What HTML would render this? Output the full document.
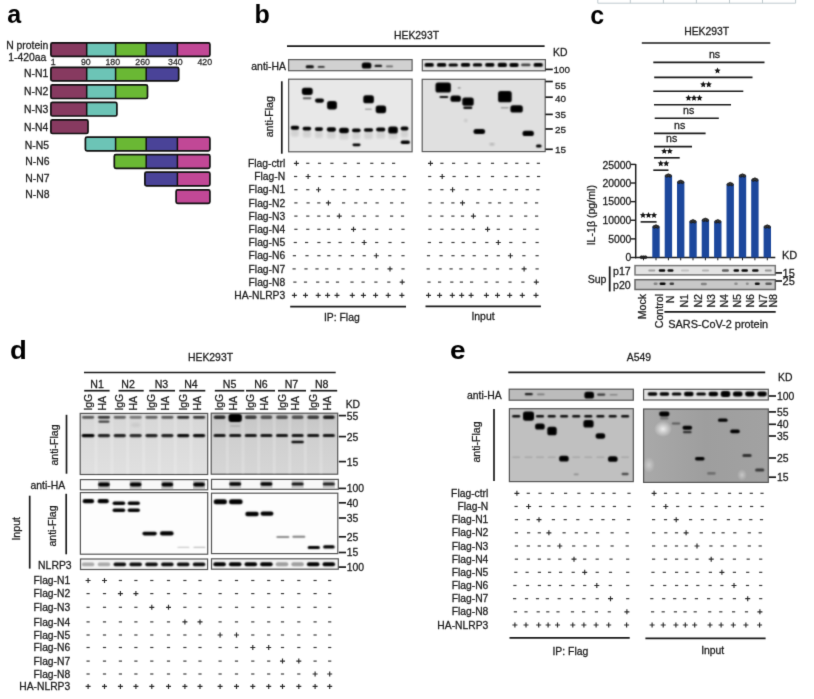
<!DOCTYPE html><html><head><meta charset="utf-8"><style>html,body{margin:0;padding:0;background:#fff;}svg{display:block;font-family:"Liberation Sans", sans-serif;}#w{width:814px;height:699px;will-change:transform;}</style></head><body>
<div id="w"><svg width="814" height="699" viewBox="0 0 814 699">
<defs><filter id="b0" x="-100%" y="-150%" width="300%" height="400%"><feConvolveMatrix order="3" kernelMatrix="0.00524 0.06192 0.00524 0.06192 0.73137 0.06192 0.00524 0.06192 0.00524" edgeMode="none"/></filter><filter id="b1" x="-100%" y="-150%" width="300%" height="400%"><feConvolveMatrix order="5" kernelMatrix="0.00009 0.00198 0.00548 0.00198 0.00009 0.00198 0.04220 0.11707 0.04220 0.00198 0.00548 0.11707 0.32480 0.11707 0.00548 0.00198 0.04220 0.11707 0.04220 0.00198 0.00009 0.00198 0.00548 0.00198 0.00009" edgeMode="none"/></filter><filter id="b2" x="-50%" y="-50%" width="200%" height="200%"><feGaussianBlur stdDeviation="1.1"/></filter><filter id="b3" x="-50%" y="-50%" width="200%" height="200%"><feGaussianBlur stdDeviation="2.2"/></filter><filter id="b5" x="-50%" y="-50%" width="200%" height="200%"><feGaussianBlur stdDeviation="5"/></filter><filter id="gall" filterUnits="userSpaceOnUse" x="0" y="0" width="814" height="699" color-interpolation-filters="sRGB"><feConvolveMatrix order="3" kernelMatrix="0.0183 0.1353 0.0183 0.1353 1.0000 0.1353 0.0183 0.1353 0.0183" edgeMode="duplicate" preserveAlpha="true"/></filter></defs>
<g filter="url(#gall)">
<rect x="0" y="0" width="814" height="699" fill="#fff" stroke="none" stroke-width="1" rx="0"/>
<g stroke="#b9c4c8" stroke-width="0.9">
<line x1="597.8" y1="3.2" x2="795.6" y2="3.2" stroke="#b9c4c8" stroke-width="0.9"/>
<line x1="597.8" y1="0" x2="597.8" y2="3.2" stroke="#b9c4c8" stroke-width="0.9"/>
<line x1="630.3" y1="0" x2="630.3" y2="3.2" stroke="#b9c4c8" stroke-width="0.9"/>
<line x1="663.4" y1="0" x2="663.4" y2="3.2" stroke="#b9c4c8" stroke-width="0.9"/>
<line x1="696.4" y1="0" x2="696.4" y2="3.2" stroke="#b9c4c8" stroke-width="0.9"/>
<line x1="729.5" y1="0" x2="729.5" y2="3.2" stroke="#b9c4c8" stroke-width="0.9"/>
<line x1="762.5" y1="0" x2="762.5" y2="3.2" stroke="#b9c4c8" stroke-width="0.9"/>
<line x1="795.6" y1="0" x2="795.6" y2="3.2" stroke="#b9c4c8" stroke-width="0.9"/>
</g>
<text x="7.2" y="23.4" font-size="25" text-anchor="start" font-weight="bold" fill="#000">a</text>
<rect x="50.9" y="42.8" width="35.800000000000004" height="13.6" fill="#873a60" stroke="none" stroke-width="1" rx="0"/>
<rect x="86.7" y="42.8" width="28.89999999999999" height="13.6" fill="#6cc4b6" stroke="none" stroke-width="1" rx="0"/>
<rect x="115.6" y="42.8" width="30.599999999999994" height="13.6" fill="#6ab834" stroke="none" stroke-width="1" rx="0"/>
<rect x="146.2" y="42.8" width="31.200000000000017" height="13.6" fill="#4a4398" stroke="none" stroke-width="1" rx="0"/>
<rect x="177.4" y="42.8" width="32.5" height="13.6" fill="#c14896" stroke="none" stroke-width="1" rx="0"/>
<line x1="86.7" y1="42.8" x2="86.7" y2="56.4" stroke="#111" stroke-width="1.5"/>
<line x1="115.6" y1="42.8" x2="115.6" y2="56.4" stroke="#111" stroke-width="1.5"/>
<line x1="146.2" y1="42.8" x2="146.2" y2="56.4" stroke="#111" stroke-width="1.5"/>
<line x1="177.4" y1="42.8" x2="177.4" y2="56.4" stroke="#111" stroke-width="1.5"/>
<rect x="50.9" y="42.8" width="159.0" height="13.6" fill="none" stroke="#111" stroke-width="1.7" rx="1.6"/>
<rect x="50.9" y="67.3" width="35.800000000000004" height="13.6" fill="#873a60" stroke="none" stroke-width="1" rx="0"/>
<rect x="86.7" y="67.3" width="28.89999999999999" height="13.6" fill="#6cc4b6" stroke="none" stroke-width="1" rx="0"/>
<rect x="115.6" y="67.3" width="30.599999999999994" height="13.6" fill="#6ab834" stroke="none" stroke-width="1" rx="0"/>
<rect x="146.2" y="67.3" width="32.50000000000003" height="13.6" fill="#4a4398" stroke="none" stroke-width="1" rx="0"/>
<line x1="86.7" y1="67.3" x2="86.7" y2="80.89999999999999" stroke="#111" stroke-width="1.5"/>
<line x1="115.6" y1="67.3" x2="115.6" y2="80.89999999999999" stroke="#111" stroke-width="1.5"/>
<line x1="146.2" y1="67.3" x2="146.2" y2="80.89999999999999" stroke="#111" stroke-width="1.5"/>
<rect x="50.9" y="67.3" width="127.80000000000001" height="13.6" fill="none" stroke="#111" stroke-width="1.7" rx="1.6"/>
<rect x="50.9" y="84.9" width="35.800000000000004" height="13.6" fill="#873a60" stroke="none" stroke-width="1" rx="0"/>
<rect x="86.7" y="84.9" width="28.89999999999999" height="13.6" fill="#6cc4b6" stroke="none" stroke-width="1" rx="0"/>
<rect x="115.6" y="84.9" width="31.900000000000006" height="13.6" fill="#6ab834" stroke="none" stroke-width="1" rx="0"/>
<line x1="86.7" y1="84.9" x2="86.7" y2="98.5" stroke="#111" stroke-width="1.5"/>
<line x1="115.6" y1="84.9" x2="115.6" y2="98.5" stroke="#111" stroke-width="1.5"/>
<rect x="50.9" y="84.9" width="96.6" height="13.6" fill="none" stroke="#111" stroke-width="1.7" rx="1.6"/>
<rect x="50.9" y="102.4" width="35.800000000000004" height="13.6" fill="#873a60" stroke="none" stroke-width="1" rx="0"/>
<rect x="86.7" y="102.4" width="30.19999999999999" height="13.6" fill="#6cc4b6" stroke="none" stroke-width="1" rx="0"/>
<line x1="86.7" y1="102.4" x2="86.7" y2="116.0" stroke="#111" stroke-width="1.5"/>
<rect x="50.9" y="102.4" width="66.0" height="13.6" fill="none" stroke="#111" stroke-width="1.7" rx="1.6"/>
<rect x="50.9" y="119.9" width="37.1" height="13.6" fill="#873a60" stroke="none" stroke-width="1" rx="0"/>
<rect x="50.9" y="119.9" width="37.1" height="13.6" fill="none" stroke="#111" stroke-width="1.7" rx="1.6"/>
<rect x="85.4" y="137.2" width="30.19999999999999" height="13.6" fill="#6cc4b6" stroke="none" stroke-width="1" rx="0"/>
<rect x="115.6" y="137.2" width="30.599999999999994" height="13.6" fill="#6ab834" stroke="none" stroke-width="1" rx="0"/>
<rect x="146.2" y="137.2" width="31.200000000000017" height="13.6" fill="#4a4398" stroke="none" stroke-width="1" rx="0"/>
<rect x="177.4" y="137.2" width="32.5" height="13.6" fill="#c14896" stroke="none" stroke-width="1" rx="0"/>
<line x1="115.6" y1="137.2" x2="115.6" y2="150.79999999999998" stroke="#111" stroke-width="1.5"/>
<line x1="146.2" y1="137.2" x2="146.2" y2="150.79999999999998" stroke="#111" stroke-width="1.5"/>
<line x1="177.4" y1="137.2" x2="177.4" y2="150.79999999999998" stroke="#111" stroke-width="1.5"/>
<rect x="85.4" y="137.2" width="124.5" height="13.6" fill="none" stroke="#111" stroke-width="1.7" rx="1.6"/>
<rect x="114.3" y="154.7" width="31.89999999999999" height="13.6" fill="#6ab834" stroke="none" stroke-width="1" rx="0"/>
<rect x="146.2" y="154.7" width="31.200000000000017" height="13.6" fill="#4a4398" stroke="none" stroke-width="1" rx="0"/>
<rect x="177.4" y="154.7" width="32.5" height="13.6" fill="#c14896" stroke="none" stroke-width="1" rx="0"/>
<line x1="146.2" y1="154.7" x2="146.2" y2="168.29999999999998" stroke="#111" stroke-width="1.5"/>
<line x1="177.4" y1="154.7" x2="177.4" y2="168.29999999999998" stroke="#111" stroke-width="1.5"/>
<rect x="114.3" y="154.7" width="95.60000000000001" height="13.6" fill="none" stroke="#111" stroke-width="1.7" rx="1.6"/>
<rect x="144.89999999999998" y="172.2" width="32.50000000000003" height="13.6" fill="#4a4398" stroke="none" stroke-width="1" rx="0"/>
<rect x="177.4" y="172.2" width="32.5" height="13.6" fill="#c14896" stroke="none" stroke-width="1" rx="0"/>
<line x1="177.4" y1="172.2" x2="177.4" y2="185.79999999999998" stroke="#111" stroke-width="1.5"/>
<rect x="144.89999999999998" y="172.2" width="65.00000000000003" height="13.6" fill="none" stroke="#111" stroke-width="1.7" rx="1.6"/>
<rect x="176.1" y="189.8" width="33.80000000000001" height="13.6" fill="#c14896" stroke="none" stroke-width="1" rx="0"/>
<rect x="176.1" y="189.8" width="33.80000000000001" height="13.6" fill="none" stroke="#111" stroke-width="1.7" rx="1.6"/>
<text x="48.3" y="49.1" font-size="10.4" text-anchor="end" stroke="#1c1c1c" stroke-width="0.28" fill="#1c1c1c">N protein</text>
<text x="46.3" y="60.8" font-size="10.4" text-anchor="end" stroke="#1c1c1c" stroke-width="0.28" fill="#1c1c1c">1-420aa</text>
<text x="48.3" y="76.7" font-size="10.4" text-anchor="end" stroke="#1c1c1c" stroke-width="0.28" fill="#1c1c1c">N-N1</text>
<text x="48.3" y="95.4" font-size="10.4" text-anchor="end" stroke="#1c1c1c" stroke-width="0.28" fill="#1c1c1c">N-N2</text>
<text x="48.3" y="113.0" font-size="10.4" text-anchor="end" stroke="#1c1c1c" stroke-width="0.28" fill="#1c1c1c">N-N3</text>
<text x="48.3" y="130.9" font-size="10.4" text-anchor="end" stroke="#1c1c1c" stroke-width="0.28" fill="#1c1c1c">N-N4</text>
<text x="49.1" y="148.5" font-size="10.4" text-anchor="end" stroke="#1c1c1c" stroke-width="0.28" fill="#1c1c1c">N-N5</text>
<text x="49.6" y="164.9" font-size="10.4" text-anchor="end" stroke="#1c1c1c" stroke-width="0.28" fill="#1c1c1c">N-N6</text>
<text x="49.6" y="181.7" font-size="10.4" text-anchor="end" stroke="#1c1c1c" stroke-width="0.28" fill="#1c1c1c">N-N7</text>
<text x="49.6" y="197.9" font-size="10.4" text-anchor="end" stroke="#1c1c1c" stroke-width="0.28" fill="#1c1c1c">N-N8</text>
<text x="53.1" y="64.6" font-size="8.8" text-anchor="middle" stroke="#2a2a2a" stroke-width="0.28" fill="#2a2a2a">1</text>
<text x="85.8" y="64.6" font-size="8.8" text-anchor="middle" stroke="#2a2a2a" stroke-width="0.28" fill="#2a2a2a">90</text>
<text x="112.8" y="64.6" font-size="8.8" text-anchor="middle" stroke="#2a2a2a" stroke-width="0.28" fill="#2a2a2a">180</text>
<text x="142.6" y="64.6" font-size="8.8" text-anchor="middle" stroke="#2a2a2a" stroke-width="0.28" fill="#2a2a2a">260</text>
<text x="175.4" y="64.6" font-size="8.8" text-anchor="middle" stroke="#2a2a2a" stroke-width="0.28" fill="#2a2a2a">340</text>
<text x="204.8" y="64.6" font-size="8.8" text-anchor="middle" stroke="#2a2a2a" stroke-width="0.28" fill="#2a2a2a">420</text>
<text x="254.6" y="23.2" font-size="25" text-anchor="start" font-weight="bold" fill="#000">b</text>
<text x="416.5" y="38.5" font-size="10.4" text-anchor="middle" stroke="#1c1c1c" stroke-width="0.28" fill="#1c1c1c">HEK293T</text>
<line x1="287" y1="46.2" x2="544.6" y2="46.2" stroke="#1a1a1a" stroke-width="1.7"/>
<text x="553" y="56.2" font-size="10.4" text-anchor="start" stroke="#1c1c1c" stroke-width="0.28" fill="#1c1c1c">KD</text>
<text x="286" y="69.8" font-size="10.4" text-anchor="end" stroke="#1c1c1c" stroke-width="0.28" fill="#1c1c1c">anti-HA</text>
<text x="273.2" y="116.7" font-size="10.6" text-anchor="middle" stroke="#1c1c1c" stroke-width="0.28" fill="#1c1c1c" transform="rotate(-90 273.2 116.7)">anti-Flag</text>
<line x1="281.8" y1="81.3" x2="281.8" y2="153.7" stroke="#1a1a1a" stroke-width="1.7"/>
<rect x="288.6" y="59.6" width="123.5" height="11.100000000000001" fill="#d1d1d1" stroke="#5a5a5a" stroke-width="1.2" rx="0"/>
<rect x="305.70" y="65.30" width="8.20" height="3.00" rx="1.50" fill="#000" opacity="0.95" filter="url(#b1)"/>
<rect x="317.70" y="65.95" width="7.00" height="1.90" rx="0.95" fill="#000" opacity="0.8" filter="url(#b1)"/>
<rect x="361.80" y="62.60" width="9.60" height="6.00" rx="2.60" fill="#000" opacity="1.0" filter="url(#b1)"/>
<rect x="374.55" y="64.70" width="7.50" height="2.40" rx="1.20" fill="#000" opacity="0.9" filter="url(#b1)"/>
<rect x="386.00" y="65.60" width="7.00" height="1.60" rx="0.80" fill="#000" opacity="0.5" filter="url(#b1)"/>
<rect x="288.6" y="79.2" width="123.5" height="72.60000000000001" fill="#e8e8e8" stroke="#5a5a5a" stroke-width="1.2" rx="0"/>
<rect x="290.95" y="129.70" width="7.90" height="7.00" rx="2.60" fill="#000" opacity="0.09" filter="url(#b2)"/>
<rect x="290.70" y="125.70" width="8.40" height="4.00" rx="2.00" fill="#000" opacity="1.0" filter="url(#b1)"/>
<rect x="302.85" y="130.60" width="8.10" height="7.00" rx="2.60" fill="#000" opacity="0.09" filter="url(#b2)"/>
<rect x="302.60" y="126.65" width="8.60" height="3.90" rx="1.95" fill="#000" opacity="1.0" filter="url(#b1)"/>
<rect x="315.05" y="131.10" width="7.70" height="7.00" rx="2.60" fill="#000" opacity="0.09" filter="url(#b2)"/>
<rect x="314.80" y="127.30" width="8.20" height="3.60" rx="1.80" fill="#000" opacity="1.0" filter="url(#b1)"/>
<rect x="327.05" y="131.50" width="8.70" height="7.00" rx="2.60" fill="#000" opacity="0.09" filter="url(#b2)"/>
<rect x="326.80" y="127.35" width="9.20" height="4.30" rx="2.15" fill="#000" opacity="1.0" filter="url(#b1)"/>
<rect x="339.35" y="132.50" width="9.30" height="7.00" rx="2.60" fill="#000" opacity="0.09" filter="url(#b2)"/>
<rect x="339.10" y="127.80" width="9.80" height="5.40" rx="2.60" fill="#000" opacity="1.0" filter="url(#b1)"/>
<rect x="352.25" y="132.30" width="8.10" height="7.00" rx="2.60" fill="#000" opacity="0.09" filter="url(#b2)"/>
<rect x="352.00" y="128.40" width="8.60" height="3.80" rx="1.90" fill="#000" opacity="1.0" filter="url(#b1)"/>
<rect x="364.15" y="132.00" width="8.70" height="7.00" rx="2.60" fill="#000" opacity="0.09" filter="url(#b2)"/>
<rect x="363.90" y="128.20" width="9.20" height="3.60" rx="1.80" fill="#000" opacity="1.0" filter="url(#b1)"/>
<rect x="376.35" y="131.60" width="8.70" height="7.00" rx="2.60" fill="#000" opacity="0.09" filter="url(#b2)"/>
<rect x="376.10" y="127.60" width="9.20" height="4.00" rx="2.00" fill="#000" opacity="1.0" filter="url(#b1)"/>
<rect x="388.45" y="132.00" width="9.10" height="7.00" rx="2.60" fill="#000" opacity="0.09" filter="url(#b2)"/>
<rect x="388.20" y="126.40" width="9.60" height="7.20" rx="2.60" fill="#000" opacity="1.0" filter="url(#b1)"/>
<rect x="400.85" y="130.60" width="7.30" height="7.00" rx="2.60" fill="#000" opacity="0.09" filter="url(#b2)"/>
<rect x="400.60" y="126.60" width="7.80" height="4.00" rx="2.00" fill="#000" opacity="1.0" filter="url(#b1)"/>
<rect x="301.90" y="87.70" width="10.80" height="7.20" rx="2.60" fill="#000" opacity="1.0" filter="url(#b1)"/>
<rect x="302.80" y="97.30" width="8.60" height="2.00" rx="1.00" fill="#000" opacity="0.6" filter="url(#b1)"/>
<rect x="315.00" y="98.50" width="9.00" height="4.20" rx="2.10" fill="#000" opacity="1.0" filter="url(#b1)"/>
<rect x="327.10" y="101.00" width="9.80" height="8.40" rx="2.60" fill="#000" opacity="1.0" filter="url(#b1)"/>
<rect x="363.30" y="95.30" width="10.60" height="8.00" rx="2.60" fill="#000" opacity="1.0" filter="url(#b1)"/>
<rect x="364.90" y="108.60" width="7.00" height="1.40" rx="0.70" fill="#000" opacity="0.3" filter="url(#b1)"/>
<rect x="375.70" y="105.40" width="10.40" height="7.80" rx="2.60" fill="#000" opacity="1.0" filter="url(#b1)"/>
<rect x="352.50" y="143.40" width="8.00" height="2.80" rx="1.40" fill="#000" opacity="1.0" filter="url(#b1)"/>
<rect x="400.70" y="140.40" width="9.20" height="3.60" rx="1.80" fill="#000" opacity="1.0" filter="url(#b1)"/>
<rect x="422.3" y="59.6" width="123.09999999999997" height="11.199999999999996" fill="#e2e2e2" stroke="#5a5a5a" stroke-width="1.2" rx="0"/>
<rect x="424.50" y="63.00" width="9.40" height="3.80" rx="1.90" fill="#000" opacity="1.0" filter="url(#b1)"/>
<rect x="436.90" y="63.00" width="9.40" height="3.80" rx="1.90" fill="#000" opacity="1.0" filter="url(#b1)"/>
<rect x="448.50" y="63.40" width="9.40" height="3.00" rx="1.50" fill="#000" opacity="1.0" filter="url(#b1)"/>
<rect x="460.80" y="63.10" width="9.40" height="3.60" rx="1.80" fill="#000" opacity="1.0" filter="url(#b1)"/>
<rect x="472.80" y="63.20" width="9.40" height="3.40" rx="1.70" fill="#000" opacity="1.0" filter="url(#b1)"/>
<rect x="485.10" y="63.10" width="9.40" height="3.60" rx="1.80" fill="#000" opacity="1.0" filter="url(#b1)"/>
<rect x="497.60" y="62.70" width="9.40" height="4.40" rx="2.20" fill="#000" opacity="1.0" filter="url(#b1)"/>
<rect x="509.30" y="62.90" width="9.40" height="4.00" rx="2.00" fill="#000" opacity="1.0" filter="url(#b1)"/>
<rect x="521.10" y="63.60" width="9.40" height="2.60" rx="1.30" fill="#000" opacity="0.7" filter="url(#b1)"/>
<rect x="533.50" y="63.00" width="9.40" height="3.80" rx="1.90" fill="#000" opacity="1.0" filter="url(#b1)"/>
<rect x="422.2" y="79.3" width="123.00000000000006" height="72.3" fill="#e0e0e0" stroke="#5a5a5a" stroke-width="1.2" rx="0"/>
<rect x="435.50" y="82.50" width="15.40" height="10.00" rx="2.60" fill="#000" opacity="1.0" filter="url(#b1)"/>
<rect x="439.50" y="95.90" width="8.80" height="2.20" rx="1.10" fill="#000" opacity="0.95" filter="url(#b1)"/>
<rect x="457.70" y="87.10" width="3.00" height="1.60" rx="0.80" fill="#000" opacity="0.3" filter="url(#b1)"/>
<rect x="450.50" y="95.60" width="10.40" height="6.20" rx="2.60" fill="#000" opacity="1.0" filter="url(#b1)"/>
<rect x="462.30" y="97.40" width="11.40" height="8.40" rx="2.60" fill="#000" opacity="1.0" filter="url(#b1)"/>
<rect x="463.30" y="106.50" width="9.00" height="2.60" rx="1.30" fill="#000" opacity="0.95" filter="url(#b1)"/>
<rect x="464.30" y="119.10" width="3.00" height="3.00" rx="1.50" fill="#000" opacity="0.15" filter="url(#b2)"/>
<rect x="473.50" y="129.10" width="11.60" height="5.00" rx="2.50" fill="#000" opacity="1.0" filter="url(#b1)"/>
<rect x="489.50" y="143.20" width="5.00" height="2.00" rx="1.00" fill="#000" opacity="0.25" filter="url(#b2)"/>
<rect x="498.10" y="90.90" width="13.60" height="11.40" rx="2.60" fill="#000" opacity="1.0" filter="url(#b1)"/>
<rect x="500.70" y="107.10" width="8.00" height="1.40" rx="0.70" fill="#000" opacity="0.3" filter="url(#b1)"/>
<rect x="510.40" y="105.20" width="12.40" height="7.40" rx="2.60" fill="#000" opacity="1.0" filter="url(#b1)"/>
<rect x="522.50" y="130.80" width="11.40" height="5.20" rx="2.60" fill="#000" opacity="1.0" filter="url(#b1)"/>
<rect x="536.00" y="144.40" width="5.60" height="3.20" rx="1.60" fill="#000" opacity="1.0" filter="url(#b1)"/>
<line x1="545.4" y1="69.4" x2="552.8" y2="69.4" stroke="#1a1a1a" stroke-width="1.7"/>
<text x="553.6" y="73.3" font-size="9.9" text-anchor="start" stroke="#1c1c1c" stroke-width="0.28" fill="#1c1c1c">100</text>
<line x1="545.4" y1="81.5" x2="552.8" y2="81.5" stroke="#1a1a1a" stroke-width="1.7"/>
<text x="555.0" y="89.1" font-size="9.9" text-anchor="start" stroke="#1c1c1c" stroke-width="0.28" fill="#1c1c1c">55</text>
<line x1="545.4" y1="97.2" x2="552.8" y2="97.2" stroke="#1a1a1a" stroke-width="1.7"/>
<text x="555.0" y="102.3" font-size="9.9" text-anchor="start" stroke="#1c1c1c" stroke-width="0.28" fill="#1c1c1c">40</text>
<line x1="545.4" y1="114.4" x2="552.8" y2="114.4" stroke="#1a1a1a" stroke-width="1.7"/>
<text x="555.0" y="118.39999999999999" font-size="9.9" text-anchor="start" stroke="#1c1c1c" stroke-width="0.28" fill="#1c1c1c">35</text>
<line x1="545.4" y1="129.0" x2="552.8" y2="129.0" stroke="#1a1a1a" stroke-width="1.7"/>
<text x="555.0" y="132.5" font-size="9.9" text-anchor="start" stroke="#1c1c1c" stroke-width="0.28" fill="#1c1c1c">25</text>
<line x1="545.4" y1="149.3" x2="552.8" y2="149.3" stroke="#1a1a1a" stroke-width="1.7"/>
<text x="555.0" y="153.2" font-size="9.9" text-anchor="start" stroke="#1c1c1c" stroke-width="0.28" fill="#1c1c1c">15</text>
<text x="285.2" y="166.9" font-size="10.3" text-anchor="end" stroke="#1c1c1c" stroke-width="0.28" fill="#1c1c1c">Flag-ctrl</text>
<path d="M293.90 163.30h5M296.40 160.80v5" stroke="#2a2a2a" stroke-width="1.15" fill="none"/>
<path d="M306.20 163.30h3.2" stroke="#3a3a3a" stroke-width="1.2" fill="none"/>
<path d="M317.90 163.30h3.2" stroke="#3a3a3a" stroke-width="1.2" fill="none"/>
<path d="M330.30 163.30h3.2" stroke="#3a3a3a" stroke-width="1.2" fill="none"/>
<path d="M343.50 163.30h3.2" stroke="#3a3a3a" stroke-width="1.2" fill="none"/>
<path d="M356.80 163.30h3.2" stroke="#3a3a3a" stroke-width="1.2" fill="none"/>
<path d="M370.20 163.30h3.2" stroke="#3a3a3a" stroke-width="1.2" fill="none"/>
<path d="M381.10 163.30h3.2" stroke="#3a3a3a" stroke-width="1.2" fill="none"/>
<path d="M392.00 163.30h3.2" stroke="#3a3a3a" stroke-width="1.2" fill="none"/>
<text x="285.2" y="180.1" font-size="10.3" text-anchor="end" stroke="#1c1c1c" stroke-width="0.28" fill="#1c1c1c">Flag-N</text>
<path d="M294.00 176.50h3.2" stroke="#3a3a3a" stroke-width="1.2" fill="none"/>
<path d="M305.60 176.50h5M308.10 174.00v5" stroke="#2a2a2a" stroke-width="1.15" fill="none"/>
<path d="M318.40 176.50h3.2" stroke="#3a3a3a" stroke-width="1.2" fill="none"/>
<path d="M330.90 176.50h3.2" stroke="#3a3a3a" stroke-width="1.2" fill="none"/>
<path d="M342.80 176.50h3.2" stroke="#3a3a3a" stroke-width="1.2" fill="none"/>
<path d="M356.80 176.50h3.2" stroke="#3a3a3a" stroke-width="1.2" fill="none"/>
<path d="M370.20 176.50h3.2" stroke="#3a3a3a" stroke-width="1.2" fill="none"/>
<path d="M381.10 176.50h3.2" stroke="#3a3a3a" stroke-width="1.2" fill="none"/>
<path d="M392.30 176.50h3.2" stroke="#3a3a3a" stroke-width="1.2" fill="none"/>
<path d="M402.90 176.50h3.2" stroke="#3a3a3a" stroke-width="1.2" fill="none"/>
<text x="285.2" y="193.3" font-size="10.3" text-anchor="end" stroke="#1c1c1c" stroke-width="0.28" fill="#1c1c1c">Flag-N1</text>
<path d="M294.30 189.70h3.2" stroke="#3a3a3a" stroke-width="1.2" fill="none"/>
<path d="M306.20 189.70h3.2" stroke="#3a3a3a" stroke-width="1.2" fill="none"/>
<path d="M316.00 189.70h5M318.50 187.20v5" stroke="#2a2a2a" stroke-width="1.15" fill="none"/>
<path d="M331.30 189.70h3.2" stroke="#3a3a3a" stroke-width="1.2" fill="none"/>
<path d="M343.10 189.70h3.2" stroke="#3a3a3a" stroke-width="1.2" fill="none"/>
<path d="M355.70 189.70h3.2" stroke="#3a3a3a" stroke-width="1.2" fill="none"/>
<path d="M369.10 189.70h3.2" stroke="#3a3a3a" stroke-width="1.2" fill="none"/>
<path d="M380.80 189.70h3.2" stroke="#3a3a3a" stroke-width="1.2" fill="none"/>
<path d="M391.50 189.70h3.2" stroke="#3a3a3a" stroke-width="1.2" fill="none"/>
<path d="M402.20 189.70h3.2" stroke="#3a3a3a" stroke-width="1.2" fill="none"/>
<text x="285.2" y="206.5" font-size="10.3" text-anchor="end" stroke="#1c1c1c" stroke-width="0.28" fill="#1c1c1c">Flag-N2</text>
<path d="M294.30 202.90h3.2" stroke="#3a3a3a" stroke-width="1.2" fill="none"/>
<path d="M306.50 202.90h3.2" stroke="#3a3a3a" stroke-width="1.2" fill="none"/>
<path d="M317.20 202.90h3.2" stroke="#3a3a3a" stroke-width="1.2" fill="none"/>
<path d="M325.90 202.90h5M328.40 200.40v5" stroke="#2a2a2a" stroke-width="1.15" fill="none"/>
<path d="M342.00 202.90h3.2" stroke="#3a3a3a" stroke-width="1.2" fill="none"/>
<path d="M354.20 202.90h3.2" stroke="#3a3a3a" stroke-width="1.2" fill="none"/>
<path d="M363.80 202.90h3.2" stroke="#3a3a3a" stroke-width="1.2" fill="none"/>
<path d="M375.50 202.90h3.2" stroke="#3a3a3a" stroke-width="1.2" fill="none"/>
<path d="M390.00 202.90h3.2" stroke="#3a3a3a" stroke-width="1.2" fill="none"/>
<path d="M400.90 202.90h3.2" stroke="#3a3a3a" stroke-width="1.2" fill="none"/>
<text x="285.2" y="219.70000000000002" font-size="10.3" text-anchor="end" stroke="#1c1c1c" stroke-width="0.28" fill="#1c1c1c">Flag-N3</text>
<path d="M294.30 216.10h3.2" stroke="#3a3a3a" stroke-width="1.2" fill="none"/>
<path d="M306.20 216.10h3.2" stroke="#3a3a3a" stroke-width="1.2" fill="none"/>
<path d="M317.20 216.10h3.2" stroke="#3a3a3a" stroke-width="1.2" fill="none"/>
<path d="M326.80 216.10h3.2" stroke="#3a3a3a" stroke-width="1.2" fill="none"/>
<path d="M336.80 216.10h5M339.30 213.60v5" stroke="#2a2a2a" stroke-width="1.15" fill="none"/>
<path d="M351.60 216.10h3.2" stroke="#3a3a3a" stroke-width="1.2" fill="none"/>
<path d="M362.90 216.10h3.2" stroke="#3a3a3a" stroke-width="1.2" fill="none"/>
<path d="M375.50 216.10h3.2" stroke="#3a3a3a" stroke-width="1.2" fill="none"/>
<path d="M390.00 216.10h3.2" stroke="#3a3a3a" stroke-width="1.2" fill="none"/>
<path d="M400.90 216.10h3.2" stroke="#3a3a3a" stroke-width="1.2" fill="none"/>
<text x="285.2" y="232.9" font-size="10.3" text-anchor="end" stroke="#1c1c1c" stroke-width="0.28" fill="#1c1c1c">Flag-N4</text>
<path d="M294.30 229.30h3.2" stroke="#3a3a3a" stroke-width="1.2" fill="none"/>
<path d="M306.20 229.30h3.2" stroke="#3a3a3a" stroke-width="1.2" fill="none"/>
<path d="M317.30 229.30h3.2" stroke="#3a3a3a" stroke-width="1.2" fill="none"/>
<path d="M326.80 229.30h3.2" stroke="#3a3a3a" stroke-width="1.2" fill="none"/>
<path d="M337.70 229.30h3.2" stroke="#3a3a3a" stroke-width="1.2" fill="none"/>
<path d="M351.00 229.30h5M353.50 226.80v5" stroke="#2a2a2a" stroke-width="1.15" fill="none"/>
<path d="M362.60 229.30h3.2" stroke="#3a3a3a" stroke-width="1.2" fill="none"/>
<path d="M375.10 229.30h3.2" stroke="#3a3a3a" stroke-width="1.2" fill="none"/>
<path d="M388.90 229.30h3.2" stroke="#3a3a3a" stroke-width="1.2" fill="none"/>
<path d="M401.40 229.30h3.2" stroke="#3a3a3a" stroke-width="1.2" fill="none"/>
<text x="285.2" y="246.1" font-size="10.3" text-anchor="end" stroke="#1c1c1c" stroke-width="0.28" fill="#1c1c1c">Flag-N5</text>
<path d="M293.70 242.50h3.2" stroke="#3a3a3a" stroke-width="1.2" fill="none"/>
<path d="M305.00 242.50h3.2" stroke="#3a3a3a" stroke-width="1.2" fill="none"/>
<path d="M317.30 242.50h3.2" stroke="#3a3a3a" stroke-width="1.2" fill="none"/>
<path d="M327.50 242.50h3.2" stroke="#3a3a3a" stroke-width="1.2" fill="none"/>
<path d="M338.50 242.50h3.2" stroke="#3a3a3a" stroke-width="1.2" fill="none"/>
<path d="M351.10 242.50h3.2" stroke="#3a3a3a" stroke-width="1.2" fill="none"/>
<path d="M361.70 242.50h5M364.20 240.00v5" stroke="#2a2a2a" stroke-width="1.15" fill="none"/>
<path d="M375.10 242.50h3.2" stroke="#3a3a3a" stroke-width="1.2" fill="none"/>
<path d="M388.40 242.50h3.2" stroke="#3a3a3a" stroke-width="1.2" fill="none"/>
<path d="M401.40 242.50h3.2" stroke="#3a3a3a" stroke-width="1.2" fill="none"/>
<text x="285.2" y="259.3" font-size="10.3" text-anchor="end" stroke="#1c1c1c" stroke-width="0.28" fill="#1c1c1c">Flag-N6</text>
<path d="M292.80 255.70h3.2" stroke="#3a3a3a" stroke-width="1.2" fill="none"/>
<path d="M305.40 255.70h3.2" stroke="#3a3a3a" stroke-width="1.2" fill="none"/>
<path d="M317.30 255.70h3.2" stroke="#3a3a3a" stroke-width="1.2" fill="none"/>
<path d="M327.20 255.70h3.2" stroke="#3a3a3a" stroke-width="1.2" fill="none"/>
<path d="M338.50 255.70h3.2" stroke="#3a3a3a" stroke-width="1.2" fill="none"/>
<path d="M350.80 255.70h3.2" stroke="#3a3a3a" stroke-width="1.2" fill="none"/>
<path d="M362.60 255.70h3.2" stroke="#3a3a3a" stroke-width="1.2" fill="none"/>
<path d="M373.80 255.70h5M376.30 253.20v5" stroke="#2a2a2a" stroke-width="1.15" fill="none"/>
<path d="M388.20 255.70h3.2" stroke="#3a3a3a" stroke-width="1.2" fill="none"/>
<path d="M401.40 255.70h3.2" stroke="#3a3a3a" stroke-width="1.2" fill="none"/>
<text x="285.2" y="272.5" font-size="10.3" text-anchor="end" stroke="#1c1c1c" stroke-width="0.28" fill="#1c1c1c">Flag-N7</text>
<path d="M292.50 268.90h3.2" stroke="#3a3a3a" stroke-width="1.2" fill="none"/>
<path d="M304.40 268.90h3.2" stroke="#3a3a3a" stroke-width="1.2" fill="none"/>
<path d="M315.40 268.90h3.2" stroke="#3a3a3a" stroke-width="1.2" fill="none"/>
<path d="M325.20 268.90h3.2" stroke="#3a3a3a" stroke-width="1.2" fill="none"/>
<path d="M337.10 268.90h3.2" stroke="#3a3a3a" stroke-width="1.2" fill="none"/>
<path d="M349.30 268.90h3.2" stroke="#3a3a3a" stroke-width="1.2" fill="none"/>
<path d="M361.80 268.90h3.2" stroke="#3a3a3a" stroke-width="1.2" fill="none"/>
<path d="M375.10 268.90h3.2" stroke="#3a3a3a" stroke-width="1.2" fill="none"/>
<path d="M387.50 268.90h5M390.00 266.40v5" stroke="#2a2a2a" stroke-width="1.15" fill="none"/>
<path d="M401.40 268.90h3.2" stroke="#3a3a3a" stroke-width="1.2" fill="none"/>
<text x="285.2" y="285.70000000000005" font-size="10.3" text-anchor="end" stroke="#1c1c1c" stroke-width="0.28" fill="#1c1c1c">Flag-N8</text>
<path d="M293.30 282.10h3.2" stroke="#3a3a3a" stroke-width="1.2" fill="none"/>
<path d="M303.90 282.10h3.2" stroke="#3a3a3a" stroke-width="1.2" fill="none"/>
<path d="M316.10 282.10h3.2" stroke="#3a3a3a" stroke-width="1.2" fill="none"/>
<path d="M325.70 282.10h3.2" stroke="#3a3a3a" stroke-width="1.2" fill="none"/>
<path d="M335.90 282.10h3.2" stroke="#3a3a3a" stroke-width="1.2" fill="none"/>
<path d="M350.40 282.10h3.2" stroke="#3a3a3a" stroke-width="1.2" fill="none"/>
<path d="M361.50 282.10h3.2" stroke="#3a3a3a" stroke-width="1.2" fill="none"/>
<path d="M374.30 282.10h3.2" stroke="#3a3a3a" stroke-width="1.2" fill="none"/>
<path d="M387.20 282.10h3.2" stroke="#3a3a3a" stroke-width="1.2" fill="none"/>
<path d="M399.70 282.10h5M402.20 279.60v5" stroke="#2a2a2a" stroke-width="1.15" fill="none"/>
<text x="285.2" y="298.90000000000003" font-size="10.3" text-anchor="end" stroke="#1c1c1c" stroke-width="0.28" fill="#1c1c1c">HA-NLRP3</text>
<path d="M291.90 295.30h5M294.40 292.80v5" stroke="#2a2a2a" stroke-width="1.15" fill="none"/>
<path d="M303.00 295.30h5M305.50 292.80v5" stroke="#2a2a2a" stroke-width="1.15" fill="none"/>
<path d="M315.70 295.30h5M318.20 292.80v5" stroke="#2a2a2a" stroke-width="1.15" fill="none"/>
<path d="M325.10 295.30h5M327.60 292.80v5" stroke="#2a2a2a" stroke-width="1.15" fill="none"/>
<path d="M334.50 295.30h5M337.00 292.80v5" stroke="#2a2a2a" stroke-width="1.15" fill="none"/>
<path d="M349.80 295.30h5M352.30 292.80v5" stroke="#2a2a2a" stroke-width="1.15" fill="none"/>
<path d="M360.90 295.30h5M363.40 292.80v5" stroke="#2a2a2a" stroke-width="1.15" fill="none"/>
<path d="M373.10 295.30h5M375.60 292.80v5" stroke="#2a2a2a" stroke-width="1.15" fill="none"/>
<path d="M385.70 295.30h5M388.20 292.80v5" stroke="#2a2a2a" stroke-width="1.15" fill="none"/>
<path d="M399.40 295.30h5M401.90 292.80v5" stroke="#2a2a2a" stroke-width="1.15" fill="none"/>
<path d="M428.00 163.30h5M430.50 160.80v5" stroke="#2a2a2a" stroke-width="1.15" fill="none"/>
<path d="M440.30 163.30h3.2" stroke="#3a3a3a" stroke-width="1.2" fill="none"/>
<path d="M452.00 163.30h3.2" stroke="#3a3a3a" stroke-width="1.2" fill="none"/>
<path d="M464.40 163.30h3.2" stroke="#3a3a3a" stroke-width="1.2" fill="none"/>
<path d="M477.60 163.30h3.2" stroke="#3a3a3a" stroke-width="1.2" fill="none"/>
<path d="M490.90 163.30h3.2" stroke="#3a3a3a" stroke-width="1.2" fill="none"/>
<path d="M504.30 163.30h3.2" stroke="#3a3a3a" stroke-width="1.2" fill="none"/>
<path d="M515.20 163.30h3.2" stroke="#3a3a3a" stroke-width="1.2" fill="none"/>
<path d="M526.10 163.30h3.2" stroke="#3a3a3a" stroke-width="1.2" fill="none"/>
<path d="M536.80 163.30h3.2" stroke="#3a3a3a" stroke-width="1.2" fill="none"/>
<path d="M428.10 176.50h3.2" stroke="#3a3a3a" stroke-width="1.2" fill="none"/>
<path d="M439.70 176.50h5M442.20 174.00v5" stroke="#2a2a2a" stroke-width="1.15" fill="none"/>
<path d="M452.50 176.50h3.2" stroke="#3a3a3a" stroke-width="1.2" fill="none"/>
<path d="M465.00 176.50h3.2" stroke="#3a3a3a" stroke-width="1.2" fill="none"/>
<path d="M476.90 176.50h3.2" stroke="#3a3a3a" stroke-width="1.2" fill="none"/>
<path d="M490.90 176.50h3.2" stroke="#3a3a3a" stroke-width="1.2" fill="none"/>
<path d="M504.30 176.50h3.2" stroke="#3a3a3a" stroke-width="1.2" fill="none"/>
<path d="M515.20 176.50h3.2" stroke="#3a3a3a" stroke-width="1.2" fill="none"/>
<path d="M526.40 176.50h3.2" stroke="#3a3a3a" stroke-width="1.2" fill="none"/>
<path d="M537.00 176.50h3.2" stroke="#3a3a3a" stroke-width="1.2" fill="none"/>
<path d="M428.40 189.70h3.2" stroke="#3a3a3a" stroke-width="1.2" fill="none"/>
<path d="M440.30 189.70h3.2" stroke="#3a3a3a" stroke-width="1.2" fill="none"/>
<path d="M450.10 189.70h5M452.60 187.20v5" stroke="#2a2a2a" stroke-width="1.15" fill="none"/>
<path d="M465.40 189.70h3.2" stroke="#3a3a3a" stroke-width="1.2" fill="none"/>
<path d="M477.20 189.70h3.2" stroke="#3a3a3a" stroke-width="1.2" fill="none"/>
<path d="M489.80 189.70h3.2" stroke="#3a3a3a" stroke-width="1.2" fill="none"/>
<path d="M503.20 189.70h3.2" stroke="#3a3a3a" stroke-width="1.2" fill="none"/>
<path d="M514.90 189.70h3.2" stroke="#3a3a3a" stroke-width="1.2" fill="none"/>
<path d="M525.60 189.70h3.2" stroke="#3a3a3a" stroke-width="1.2" fill="none"/>
<path d="M536.30 189.70h3.2" stroke="#3a3a3a" stroke-width="1.2" fill="none"/>
<path d="M428.40 202.90h3.2" stroke="#3a3a3a" stroke-width="1.2" fill="none"/>
<path d="M440.60 202.90h3.2" stroke="#3a3a3a" stroke-width="1.2" fill="none"/>
<path d="M451.30 202.90h3.2" stroke="#3a3a3a" stroke-width="1.2" fill="none"/>
<path d="M460.00 202.90h5M462.50 200.40v5" stroke="#2a2a2a" stroke-width="1.15" fill="none"/>
<path d="M476.10 202.90h3.2" stroke="#3a3a3a" stroke-width="1.2" fill="none"/>
<path d="M488.30 202.90h3.2" stroke="#3a3a3a" stroke-width="1.2" fill="none"/>
<path d="M497.90 202.90h3.2" stroke="#3a3a3a" stroke-width="1.2" fill="none"/>
<path d="M509.60 202.90h3.2" stroke="#3a3a3a" stroke-width="1.2" fill="none"/>
<path d="M524.10 202.90h3.2" stroke="#3a3a3a" stroke-width="1.2" fill="none"/>
<path d="M535.00 202.90h3.2" stroke="#3a3a3a" stroke-width="1.2" fill="none"/>
<path d="M428.40 216.10h3.2" stroke="#3a3a3a" stroke-width="1.2" fill="none"/>
<path d="M440.30 216.10h3.2" stroke="#3a3a3a" stroke-width="1.2" fill="none"/>
<path d="M451.30 216.10h3.2" stroke="#3a3a3a" stroke-width="1.2" fill="none"/>
<path d="M460.90 216.10h3.2" stroke="#3a3a3a" stroke-width="1.2" fill="none"/>
<path d="M470.90 216.10h5M473.40 213.60v5" stroke="#2a2a2a" stroke-width="1.15" fill="none"/>
<path d="M485.70 216.10h3.2" stroke="#3a3a3a" stroke-width="1.2" fill="none"/>
<path d="M497.00 216.10h3.2" stroke="#3a3a3a" stroke-width="1.2" fill="none"/>
<path d="M509.60 216.10h3.2" stroke="#3a3a3a" stroke-width="1.2" fill="none"/>
<path d="M524.10 216.10h3.2" stroke="#3a3a3a" stroke-width="1.2" fill="none"/>
<path d="M535.00 216.10h3.2" stroke="#3a3a3a" stroke-width="1.2" fill="none"/>
<path d="M428.40 229.30h3.2" stroke="#3a3a3a" stroke-width="1.2" fill="none"/>
<path d="M440.30 229.30h3.2" stroke="#3a3a3a" stroke-width="1.2" fill="none"/>
<path d="M451.40 229.30h3.2" stroke="#3a3a3a" stroke-width="1.2" fill="none"/>
<path d="M460.90 229.30h3.2" stroke="#3a3a3a" stroke-width="1.2" fill="none"/>
<path d="M471.80 229.30h3.2" stroke="#3a3a3a" stroke-width="1.2" fill="none"/>
<path d="M485.10 229.30h5M487.60 226.80v5" stroke="#2a2a2a" stroke-width="1.15" fill="none"/>
<path d="M496.70 229.30h3.2" stroke="#3a3a3a" stroke-width="1.2" fill="none"/>
<path d="M509.20 229.30h3.2" stroke="#3a3a3a" stroke-width="1.2" fill="none"/>
<path d="M523.00 229.30h3.2" stroke="#3a3a3a" stroke-width="1.2" fill="none"/>
<path d="M535.50 229.30h3.2" stroke="#3a3a3a" stroke-width="1.2" fill="none"/>
<path d="M427.80 242.50h3.2" stroke="#3a3a3a" stroke-width="1.2" fill="none"/>
<path d="M439.10 242.50h3.2" stroke="#3a3a3a" stroke-width="1.2" fill="none"/>
<path d="M451.40 242.50h3.2" stroke="#3a3a3a" stroke-width="1.2" fill="none"/>
<path d="M461.60 242.50h3.2" stroke="#3a3a3a" stroke-width="1.2" fill="none"/>
<path d="M472.60 242.50h3.2" stroke="#3a3a3a" stroke-width="1.2" fill="none"/>
<path d="M485.20 242.50h3.2" stroke="#3a3a3a" stroke-width="1.2" fill="none"/>
<path d="M495.80 242.50h5M498.30 240.00v5" stroke="#2a2a2a" stroke-width="1.15" fill="none"/>
<path d="M509.20 242.50h3.2" stroke="#3a3a3a" stroke-width="1.2" fill="none"/>
<path d="M522.50 242.50h3.2" stroke="#3a3a3a" stroke-width="1.2" fill="none"/>
<path d="M535.50 242.50h3.2" stroke="#3a3a3a" stroke-width="1.2" fill="none"/>
<path d="M426.90 255.70h3.2" stroke="#3a3a3a" stroke-width="1.2" fill="none"/>
<path d="M439.50 255.70h3.2" stroke="#3a3a3a" stroke-width="1.2" fill="none"/>
<path d="M451.40 255.70h3.2" stroke="#3a3a3a" stroke-width="1.2" fill="none"/>
<path d="M461.30 255.70h3.2" stroke="#3a3a3a" stroke-width="1.2" fill="none"/>
<path d="M472.60 255.70h3.2" stroke="#3a3a3a" stroke-width="1.2" fill="none"/>
<path d="M484.90 255.70h3.2" stroke="#3a3a3a" stroke-width="1.2" fill="none"/>
<path d="M496.70 255.70h3.2" stroke="#3a3a3a" stroke-width="1.2" fill="none"/>
<path d="M507.90 255.70h5M510.40 253.20v5" stroke="#2a2a2a" stroke-width="1.15" fill="none"/>
<path d="M522.30 255.70h3.2" stroke="#3a3a3a" stroke-width="1.2" fill="none"/>
<path d="M535.50 255.70h3.2" stroke="#3a3a3a" stroke-width="1.2" fill="none"/>
<path d="M426.60 268.90h3.2" stroke="#3a3a3a" stroke-width="1.2" fill="none"/>
<path d="M438.50 268.90h3.2" stroke="#3a3a3a" stroke-width="1.2" fill="none"/>
<path d="M449.50 268.90h3.2" stroke="#3a3a3a" stroke-width="1.2" fill="none"/>
<path d="M459.30 268.90h3.2" stroke="#3a3a3a" stroke-width="1.2" fill="none"/>
<path d="M471.20 268.90h3.2" stroke="#3a3a3a" stroke-width="1.2" fill="none"/>
<path d="M483.40 268.90h3.2" stroke="#3a3a3a" stroke-width="1.2" fill="none"/>
<path d="M495.90 268.90h3.2" stroke="#3a3a3a" stroke-width="1.2" fill="none"/>
<path d="M509.20 268.90h3.2" stroke="#3a3a3a" stroke-width="1.2" fill="none"/>
<path d="M521.60 268.90h5M524.10 266.40v5" stroke="#2a2a2a" stroke-width="1.15" fill="none"/>
<path d="M535.50 268.90h3.2" stroke="#3a3a3a" stroke-width="1.2" fill="none"/>
<path d="M427.40 282.10h3.2" stroke="#3a3a3a" stroke-width="1.2" fill="none"/>
<path d="M438.00 282.10h3.2" stroke="#3a3a3a" stroke-width="1.2" fill="none"/>
<path d="M450.20 282.10h3.2" stroke="#3a3a3a" stroke-width="1.2" fill="none"/>
<path d="M459.80 282.10h3.2" stroke="#3a3a3a" stroke-width="1.2" fill="none"/>
<path d="M470.00 282.10h3.2" stroke="#3a3a3a" stroke-width="1.2" fill="none"/>
<path d="M484.50 282.10h3.2" stroke="#3a3a3a" stroke-width="1.2" fill="none"/>
<path d="M495.60 282.10h3.2" stroke="#3a3a3a" stroke-width="1.2" fill="none"/>
<path d="M508.40 282.10h3.2" stroke="#3a3a3a" stroke-width="1.2" fill="none"/>
<path d="M521.30 282.10h3.2" stroke="#3a3a3a" stroke-width="1.2" fill="none"/>
<path d="M533.80 282.10h5M536.30 279.60v5" stroke="#2a2a2a" stroke-width="1.15" fill="none"/>
<path d="M426.00 295.30h5M428.50 292.80v5" stroke="#2a2a2a" stroke-width="1.15" fill="none"/>
<path d="M437.10 295.30h5M439.60 292.80v5" stroke="#2a2a2a" stroke-width="1.15" fill="none"/>
<path d="M449.80 295.30h5M452.30 292.80v5" stroke="#2a2a2a" stroke-width="1.15" fill="none"/>
<path d="M459.20 295.30h5M461.70 292.80v5" stroke="#2a2a2a" stroke-width="1.15" fill="none"/>
<path d="M468.60 295.30h5M471.10 292.80v5" stroke="#2a2a2a" stroke-width="1.15" fill="none"/>
<path d="M483.90 295.30h5M486.40 292.80v5" stroke="#2a2a2a" stroke-width="1.15" fill="none"/>
<path d="M495.00 295.30h5M497.50 292.80v5" stroke="#2a2a2a" stroke-width="1.15" fill="none"/>
<path d="M507.20 295.30h5M509.70 292.80v5" stroke="#2a2a2a" stroke-width="1.15" fill="none"/>
<path d="M519.80 295.30h5M522.30 292.80v5" stroke="#2a2a2a" stroke-width="1.15" fill="none"/>
<path d="M533.50 295.30h5M536.00 292.80v5" stroke="#2a2a2a" stroke-width="1.15" fill="none"/>
<line x1="290.2" y1="306.6" x2="406" y2="306.6" stroke="#1a1a1a" stroke-width="1.7"/>
<text x="341.8" y="321.2" font-size="10.4" text-anchor="middle" stroke="#1c1c1c" stroke-width="0.28" fill="#1c1c1c">IP: Flag</text>
<line x1="425.5" y1="306.4" x2="540.9" y2="306.4" stroke="#1a1a1a" stroke-width="1.7"/>
<text x="483.0" y="320.0" font-size="10.4" text-anchor="middle" stroke="#1c1c1c" stroke-width="0.28" fill="#1c1c1c">Input</text>
<text x="590.2" y="23.5" font-size="25" text-anchor="start" font-weight="bold" fill="#000">c</text>
<text x="706.7" y="34.6" font-size="10.4" text-anchor="middle" stroke="#1c1c1c" stroke-width="0.28" fill="#1c1c1c">HEK293T</text>
<line x1="641.8" y1="43.0" x2="770.3" y2="43.0" stroke="#1a1a1a" stroke-width="1.7"/>
<line x1="653.3" y1="62.4" x2="764.5" y2="62.4" stroke="#1a1a1a" stroke-width="1.6"/>
<text x="714.5" y="57.8" font-size="10.6" text-anchor="middle" stroke="#1c1c1c" stroke-width="0.28" fill="#1c1c1c">ns</text>
<line x1="654.2" y1="77.4" x2="752.5" y2="77.4" stroke="#1a1a1a" stroke-width="1.6"/>
<polygon points="717.50,67.55 718.41,69.55 720.59,69.80 718.97,71.28 719.41,73.43 717.50,72.35 715.59,73.43 716.03,71.28 714.41,69.80 716.59,69.55" fill="#151515"/>
<line x1="653.3" y1="91.2" x2="743.3" y2="91.2" stroke="#1a1a1a" stroke-width="1.6"/>
<polygon points="703.25,81.35 704.16,83.35 706.34,83.60 704.72,85.08 705.16,87.23 703.25,86.15 701.34,87.23 701.78,85.08 700.16,83.60 702.34,83.35" fill="#151515"/>
<polygon points="708.75,81.35 709.66,83.35 711.84,83.60 710.22,85.08 710.66,87.23 708.75,86.15 706.84,87.23 707.28,85.08 705.66,83.60 707.84,83.35" fill="#151515"/>
<line x1="654.0" y1="104.7" x2="731.0" y2="104.7" stroke="#1a1a1a" stroke-width="1.6"/>
<polygon points="688.50,94.85 689.41,96.85 691.59,97.10 689.97,98.58 690.41,100.73 688.50,99.65 686.59,100.73 687.03,98.58 685.41,97.10 687.59,96.85" fill="#151515"/>
<polygon points="694.00,94.85 694.91,96.85 697.09,97.10 695.47,98.58 695.91,100.73 694.00,99.65 692.09,100.73 692.53,98.58 690.91,97.10 693.09,96.85" fill="#151515"/>
<polygon points="699.50,94.85 700.41,96.85 702.59,97.10 700.97,98.58 701.41,100.73 699.50,99.65 697.59,100.73 698.03,98.58 696.41,97.10 698.59,96.85" fill="#151515"/>
<line x1="654.7" y1="118.2" x2="718.8" y2="118.2" stroke="#1a1a1a" stroke-width="1.6"/>
<text x="688.7" y="113.60000000000001" font-size="10.6" text-anchor="middle" stroke="#1c1c1c" stroke-width="0.28" fill="#1c1c1c">ns</text>
<line x1="654.0" y1="133.4" x2="705.6" y2="133.4" stroke="#1a1a1a" stroke-width="1.6"/>
<text x="679.7" y="128.8" font-size="10.6" text-anchor="middle" stroke="#1c1c1c" stroke-width="0.28" fill="#1c1c1c">ns</text>
<line x1="654.0" y1="146.6" x2="692.0" y2="146.6" stroke="#1a1a1a" stroke-width="1.6"/>
<text x="671.7" y="142.0" font-size="10.6" text-anchor="middle" stroke="#1c1c1c" stroke-width="0.28" fill="#1c1c1c">ns</text>
<line x1="654.0" y1="157.8" x2="679.7" y2="157.8" stroke="#1a1a1a" stroke-width="1.6"/>
<polygon points="664.25,147.95 665.16,149.95 667.34,150.20 665.72,151.68 666.16,153.83 664.25,152.75 662.34,153.83 662.78,151.68 661.16,150.20 663.34,149.95" fill="#151515"/>
<polygon points="669.75,147.95 670.66,149.95 672.84,150.20 671.22,151.68 671.66,153.83 669.75,152.75 667.84,153.83 668.28,151.68 666.66,150.20 668.84,149.95" fill="#151515"/>
<line x1="653.3" y1="170.2" x2="668.5" y2="170.2" stroke="#1a1a1a" stroke-width="1.6"/>
<polygon points="660.75,160.35 661.66,162.35 663.84,162.60 662.22,164.08 662.66,166.23 660.75,165.15 658.84,166.23 659.28,164.08 657.66,162.60 659.84,162.35" fill="#151515"/>
<polygon points="666.25,160.35 667.16,162.35 669.34,162.60 667.72,164.08 668.16,166.23 666.25,165.15 664.34,166.23 664.78,164.08 663.16,162.60 665.34,162.35" fill="#151515"/>
<line x1="640.6" y1="221.9" x2="656.6" y2="221.9" stroke="#1a1a1a" stroke-width="1.6"/>
<polygon points="643.00,212.05 643.91,214.05 646.09,214.30 644.47,215.78 644.91,217.93 643.00,216.85 641.09,217.93 641.53,215.78 639.91,214.30 642.09,214.05" fill="#151515"/>
<polygon points="648.50,212.05 649.41,214.05 651.59,214.30 649.97,215.78 650.41,217.93 648.50,216.85 646.59,217.93 647.03,215.78 645.41,214.30 647.59,214.05" fill="#151515"/>
<polygon points="654.00,212.05 654.91,214.05 657.09,214.30 655.47,215.78 655.91,217.93 654.00,216.85 652.09,217.93 652.53,215.78 650.91,214.30 653.09,214.05" fill="#151515"/>
<line x1="635.7" y1="164.0" x2="635.7" y2="258.3" stroke="#1a1a1a" stroke-width="1.5"/>
<line x1="630.8" y1="257.5" x2="635.7" y2="257.5" stroke="#1a1a1a" stroke-width="1.4"/>
<text x="631.4" y="261.2" font-size="10.4" text-anchor="end" stroke="#1c1c1c" stroke-width="0.28" fill="#1c1c1c">0</text>
<line x1="630.8" y1="238.88" x2="635.7" y2="238.88" stroke="#1a1a1a" stroke-width="1.4"/>
<text x="631.4" y="242.57999999999998" font-size="10.4" text-anchor="end" stroke="#1c1c1c" stroke-width="0.28" fill="#1c1c1c">5000</text>
<line x1="630.8" y1="220.26" x2="635.7" y2="220.26" stroke="#1a1a1a" stroke-width="1.4"/>
<text x="631.4" y="223.95999999999998" font-size="10.4" text-anchor="end" stroke="#1c1c1c" stroke-width="0.28" fill="#1c1c1c">10000</text>
<line x1="630.8" y1="201.64" x2="635.7" y2="201.64" stroke="#1a1a1a" stroke-width="1.4"/>
<text x="631.4" y="205.33999999999997" font-size="10.4" text-anchor="end" stroke="#1c1c1c" stroke-width="0.28" fill="#1c1c1c">15000</text>
<line x1="630.8" y1="183.01999999999998" x2="635.7" y2="183.01999999999998" stroke="#1a1a1a" stroke-width="1.4"/>
<text x="631.4" y="186.71999999999997" font-size="10.4" text-anchor="end" stroke="#1c1c1c" stroke-width="0.28" fill="#1c1c1c">20000</text>
<line x1="630.8" y1="164.4" x2="635.7" y2="164.4" stroke="#1a1a1a" stroke-width="1.4"/>
<text x="631.4" y="169.29999999999998" font-size="10.4" text-anchor="end" stroke="#1c1c1c" stroke-width="0.28" fill="#1c1c1c">25000</text>
<text x="595.3" y="215.2" font-size="10.6" text-anchor="middle" stroke="#1c1c1c" stroke-width="0.28" fill="#1c1c1c" transform="rotate(-90 595.3 215.2)">IL-1β (pg/ml)</text>
<line x1="635.0" y1="257.5" x2="775.3" y2="257.5" stroke="#1a1a1a" stroke-width="1.4"/>
<line x1="643.5" y1="257.5" x2="643.5" y2="260.3" stroke="#1a1a1a" stroke-width="1.0"/>
<circle cx="641.50" cy="257.20" r="1.45" fill="#2a2a2a" stroke="#111" stroke-width="0.6"/>
<circle cx="643.50" cy="257.20" r="1.45" fill="#2a2a2a" stroke="#111" stroke-width="0.6"/>
<circle cx="645.50" cy="257.20" r="1.45" fill="#2a2a2a" stroke="#111" stroke-width="0.6"/>
<line x1="656.0" y1="257.5" x2="656.0" y2="260.3" stroke="#1a1a1a" stroke-width="1.0"/>
<rect x="652.3" y="226.5908" width="7.4" height="30.9092" fill="#1c479c" stroke="none" stroke-width="1" rx="0"/>
<circle cx="654.30" cy="226.89" r="1.45" fill="#3a3a3a" stroke="#111" stroke-width="0.6"/>
<circle cx="657.70" cy="226.89" r="1.45" fill="#3a3a3a" stroke="#111" stroke-width="0.6"/>
<circle cx="656.00" cy="226.19" r="1.45" fill="#3a3a3a" stroke="#111" stroke-width="0.6"/>
<line x1="668.4" y1="257.5" x2="668.4" y2="260.3" stroke="#1a1a1a" stroke-width="1.0"/>
<rect x="664.6999999999999" y="175.572" width="7.4" height="81.928" fill="#1c479c" stroke="none" stroke-width="1" rx="0"/>
<circle cx="666.70" cy="175.87" r="1.45" fill="#3a3a3a" stroke="#111" stroke-width="0.6"/>
<circle cx="670.10" cy="175.87" r="1.45" fill="#3a3a3a" stroke="#111" stroke-width="0.6"/>
<circle cx="668.40" cy="175.17" r="1.45" fill="#3a3a3a" stroke="#111" stroke-width="0.6"/>
<line x1="680.7" y1="257.5" x2="680.7" y2="260.3" stroke="#1a1a1a" stroke-width="1.0"/>
<rect x="677.0" y="181.9028" width="7.4" height="75.59719999999999" fill="#1c479c" stroke="none" stroke-width="1" rx="0"/>
<circle cx="679.00" cy="182.20" r="1.45" fill="#3a3a3a" stroke="#111" stroke-width="0.6"/>
<circle cx="682.40" cy="182.20" r="1.45" fill="#3a3a3a" stroke="#111" stroke-width="0.6"/>
<circle cx="680.70" cy="181.50" r="1.45" fill="#3a3a3a" stroke="#111" stroke-width="0.6"/>
<line x1="693.0" y1="257.5" x2="693.0" y2="260.3" stroke="#1a1a1a" stroke-width="1.0"/>
<rect x="689.3" y="221.37720000000002" width="7.4" height="36.122799999999984" fill="#1c479c" stroke="none" stroke-width="1" rx="0"/>
<circle cx="691.30" cy="221.68" r="1.45" fill="#3a3a3a" stroke="#111" stroke-width="0.6"/>
<circle cx="694.70" cy="221.68" r="1.45" fill="#3a3a3a" stroke="#111" stroke-width="0.6"/>
<circle cx="693.00" cy="220.98" r="1.45" fill="#3a3a3a" stroke="#111" stroke-width="0.6"/>
<line x1="705.4" y1="257.5" x2="705.4" y2="260.3" stroke="#1a1a1a" stroke-width="1.0"/>
<rect x="701.6999999999999" y="219.8876" width="7.4" height="37.61240000000001" fill="#1c479c" stroke="none" stroke-width="1" rx="0"/>
<circle cx="703.70" cy="220.19" r="1.45" fill="#3a3a3a" stroke="#111" stroke-width="0.6"/>
<circle cx="707.10" cy="220.19" r="1.45" fill="#3a3a3a" stroke="#111" stroke-width="0.6"/>
<circle cx="705.40" cy="219.49" r="1.45" fill="#3a3a3a" stroke="#111" stroke-width="0.6"/>
<line x1="717.8" y1="257.5" x2="717.8" y2="260.3" stroke="#1a1a1a" stroke-width="1.0"/>
<rect x="714.0999999999999" y="221.37720000000002" width="7.4" height="36.122799999999984" fill="#1c479c" stroke="none" stroke-width="1" rx="0"/>
<circle cx="716.10" cy="221.68" r="1.45" fill="#3a3a3a" stroke="#111" stroke-width="0.6"/>
<circle cx="719.50" cy="221.68" r="1.45" fill="#3a3a3a" stroke="#111" stroke-width="0.6"/>
<circle cx="717.80" cy="220.98" r="1.45" fill="#3a3a3a" stroke="#111" stroke-width="0.6"/>
<line x1="730.2" y1="257.5" x2="730.2" y2="260.3" stroke="#1a1a1a" stroke-width="1.0"/>
<rect x="726.5" y="184.1372" width="7.4" height="73.3628" fill="#1c479c" stroke="none" stroke-width="1" rx="0"/>
<circle cx="728.50" cy="184.44" r="1.45" fill="#3a3a3a" stroke="#111" stroke-width="0.6"/>
<circle cx="731.90" cy="184.44" r="1.45" fill="#3a3a3a" stroke="#111" stroke-width="0.6"/>
<circle cx="730.20" cy="183.74" r="1.45" fill="#3a3a3a" stroke="#111" stroke-width="0.6"/>
<line x1="742.5" y1="257.5" x2="742.5" y2="260.3" stroke="#1a1a1a" stroke-width="1.0"/>
<rect x="738.8" y="175.572" width="7.4" height="81.928" fill="#1c479c" stroke="none" stroke-width="1" rx="0"/>
<circle cx="740.80" cy="175.87" r="1.45" fill="#3a3a3a" stroke="#111" stroke-width="0.6"/>
<circle cx="744.20" cy="175.87" r="1.45" fill="#3a3a3a" stroke="#111" stroke-width="0.6"/>
<circle cx="742.50" cy="175.17" r="1.45" fill="#3a3a3a" stroke="#111" stroke-width="0.6"/>
<line x1="754.9" y1="257.5" x2="754.9" y2="260.3" stroke="#1a1a1a" stroke-width="1.0"/>
<rect x="751.1999999999999" y="179.66840000000002" width="7.4" height="77.83159999999998" fill="#1c479c" stroke="none" stroke-width="1" rx="0"/>
<circle cx="753.20" cy="179.97" r="1.45" fill="#3a3a3a" stroke="#111" stroke-width="0.6"/>
<circle cx="756.60" cy="179.97" r="1.45" fill="#3a3a3a" stroke="#111" stroke-width="0.6"/>
<circle cx="754.90" cy="179.27" r="1.45" fill="#3a3a3a" stroke="#111" stroke-width="0.6"/>
<line x1="767.3" y1="257.5" x2="767.3" y2="260.3" stroke="#1a1a1a" stroke-width="1.0"/>
<rect x="763.5999999999999" y="226.5908" width="7.4" height="30.9092" fill="#1c479c" stroke="none" stroke-width="1" rx="0"/>
<circle cx="765.60" cy="226.89" r="1.45" fill="#3a3a3a" stroke="#111" stroke-width="0.6"/>
<circle cx="769.00" cy="226.89" r="1.45" fill="#3a3a3a" stroke="#111" stroke-width="0.6"/>
<circle cx="767.30" cy="226.19" r="1.45" fill="#3a3a3a" stroke="#111" stroke-width="0.6"/>
<text x="782.0" y="258.8" font-size="11.0" text-anchor="start" stroke="#1c1c1c" stroke-width="0.28" fill="#1c1c1c">KD</text>
<rect x="635.0" y="265.6" width="140.29999999999995" height="9.299999999999955" fill="#e3e3e3" stroke="#777" stroke-width="1.5" rx="0"/>
<rect x="635.0" y="279.7" width="140.29999999999995" height="9.800000000000011" fill="#c8c8c8" stroke="#666" stroke-width="1.5" rx="0"/>
<rect x="648.30" y="269.60" width="7.00" height="1.80" rx="0.90" fill="#000" opacity="0.3" filter="url(#b0)"/>
<rect x="658.75" y="269.20" width="6.50" height="2.60" rx="1.30" fill="#000" opacity="1.0" filter="url(#b0)"/>
<rect x="667.50" y="269.20" width="6.00" height="2.60" rx="1.30" fill="#000" opacity="0.95" filter="url(#b0)"/>
<rect x="681.00" y="269.60" width="8.00" height="1.80" rx="0.90" fill="#000" opacity="0.15" filter="url(#b0)"/>
<rect x="702.00" y="269.60" width="7.00" height="1.80" rx="0.90" fill="#000" opacity="0.22" filter="url(#b0)"/>
<rect x="721.90" y="269.20" width="7.00" height="2.60" rx="1.30" fill="#000" opacity="0.6" filter="url(#b0)"/>
<rect x="733.55" y="269.20" width="5.50" height="2.60" rx="1.30" fill="#000" opacity="1.0" filter="url(#b0)"/>
<rect x="741.45" y="269.20" width="6.50" height="2.60" rx="1.30" fill="#000" opacity="1.0" filter="url(#b0)"/>
<rect x="752.05" y="269.20" width="6.50" height="2.60" rx="1.30" fill="#000" opacity="0.95" filter="url(#b0)"/>
<rect x="764.80" y="269.60" width="7.00" height="1.80" rx="0.90" fill="#000" opacity="0.35" filter="url(#b0)"/>
<rect x="653.60" y="282.50" width="4.00" height="2.60" rx="1.30" fill="#000" opacity="0.35" filter="url(#b0)"/>
<rect x="659.60" y="282.50" width="6.00" height="2.60" rx="1.30" fill="#000" opacity="1.0" filter="url(#b0)"/>
<rect x="669.55" y="282.50" width="4.50" height="2.60" rx="1.30" fill="#000" opacity="0.7" filter="url(#b0)"/>
<rect x="700.80" y="282.70" width="6.00" height="2.60" rx="1.30" fill="#000" opacity="0.35" filter="url(#b0)"/>
<rect x="734.25" y="282.50" width="3.50" height="2.60" rx="1.30" fill="#000" opacity="0.3" filter="url(#b0)"/>
<rect x="745.80" y="282.50" width="3.00" height="2.60" rx="1.30" fill="#000" opacity="0.3" filter="url(#b0)"/>
<rect x="754.80" y="282.50" width="5.00" height="2.60" rx="1.30" fill="#000" opacity="0.95" filter="url(#b0)"/>
<rect x="765.35" y="282.50" width="6.50" height="2.60" rx="1.30" fill="#000" opacity="0.55" filter="url(#b0)"/>
<line x1="775.6" y1="272.9" x2="782.0" y2="272.9" stroke="#1a1a1a" stroke-width="1.7"/>
<text x="782.6" y="276.6" font-size="11.0" text-anchor="start" stroke="#1c1c1c" stroke-width="0.28" fill="#1c1c1c">15</text>
<line x1="775.6" y1="281.0" x2="782.0" y2="281.0" stroke="#1a1a1a" stroke-width="1.7"/>
<text x="782.6" y="285.3" font-size="11.0" text-anchor="start" stroke="#1c1c1c" stroke-width="0.28" fill="#1c1c1c">25</text>
<text x="606.5" y="283.2" font-size="10.6" text-anchor="end" stroke="#1c1c1c" stroke-width="0.28" fill="#1c1c1c">Sup</text>
<line x1="609.7" y1="266.4" x2="609.7" y2="291.5" stroke="#1a1a1a" stroke-width="1.8"/>
<text x="613.0" y="275.0" font-size="10.6" text-anchor="start" stroke="#1c1c1c" stroke-width="0.28" fill="#1c1c1c">p17</text>
<text x="613.0" y="289.2" font-size="10.6" text-anchor="start" stroke="#1c1c1c" stroke-width="0.28" fill="#1c1c1c">p20</text>
<text x="646.3000000000001" y="294.0" font-size="10.6" text-anchor="end" stroke="#1c1c1c" stroke-width="0.28" fill="#1c1c1c" transform="rotate(-90 646.3000000000001 294.0)">Mock</text>
<text x="663.2" y="294.0" font-size="10.6" text-anchor="end" stroke="#1c1c1c" stroke-width="0.28" fill="#1c1c1c" transform="rotate(-90 663.2 294.0)">Control</text>
<text x="674.2" y="295.6" font-size="10.6" text-anchor="end" stroke="#1c1c1c" stroke-width="0.28" fill="#1c1c1c" transform="rotate(-90 674.2 295.6)">N</text>
<text x="687.6" y="294.0" font-size="10.6" text-anchor="end" stroke="#1c1c1c" stroke-width="0.28" fill="#1c1c1c" transform="rotate(-90 687.6 294.0)">N1</text>
<text x="702.0" y="294.0" font-size="10.6" text-anchor="end" stroke="#1c1c1c" stroke-width="0.28" fill="#1c1c1c" transform="rotate(-90 702.0 294.0)">N2</text>
<text x="714.5" y="294.0" font-size="10.6" text-anchor="end" stroke="#1c1c1c" stroke-width="0.28" fill="#1c1c1c" transform="rotate(-90 714.5 294.0)">N3</text>
<text x="727.7" y="294.0" font-size="10.6" text-anchor="end" stroke="#1c1c1c" stroke-width="0.28" fill="#1c1c1c" transform="rotate(-90 727.7 294.0)">N4</text>
<text x="740.7" y="294.0" font-size="10.6" text-anchor="end" stroke="#1c1c1c" stroke-width="0.28" fill="#1c1c1c" transform="rotate(-90 740.7 294.0)">N5</text>
<text x="754.0" y="294.0" font-size="10.6" text-anchor="end" stroke="#1c1c1c" stroke-width="0.28" fill="#1c1c1c" transform="rotate(-90 754.0 294.0)">N6</text>
<text x="766.5" y="294.0" font-size="10.6" text-anchor="end" stroke="#1c1c1c" stroke-width="0.28" fill="#1c1c1c" transform="rotate(-90 766.5 294.0)">N7</text>
<text x="777.2" y="294.0" font-size="10.6" text-anchor="end" stroke="#1c1c1c" stroke-width="0.28" fill="#1c1c1c" transform="rotate(-90 777.2 294.0)">N8</text>
<line x1="664.4" y1="311.8" x2="775.7" y2="311.8" stroke="#1a1a1a" stroke-width="1.7"/>
<text x="718.2" y="327.6" font-size="10.9" text-anchor="middle" stroke="#1c1c1c" stroke-width="0.28" fill="#1c1c1c">SARS-CoV-2 protein</text>
<text x="0" y="0" font-size="25" font-weight="bold" fill="#000" transform="translate(9.9 358.8) scale(1.1 1)">d</text>
<text x="210.5" y="361.4" font-size="10.4" text-anchor="middle" stroke="#1c1c1c" stroke-width="0.28" fill="#1c1c1c">HEK293T</text>
<line x1="84.0" y1="372.5" x2="335.7" y2="372.5" stroke="#1a1a1a" stroke-width="1.7"/>
<text x="97.1" y="387.9" font-size="10.6" text-anchor="middle" stroke="#1c1c1c" stroke-width="0.28" fill="#1c1c1c">N1</text>
<line x1="84.2" y1="390.7" x2="109.6" y2="390.7" stroke="#1a1a1a" stroke-width="1.7"/>
<text x="91.69999999999999" y="410.6" font-size="10.4" text-anchor="start" stroke="#1c1c1c" stroke-width="0.28" fill="#1c1c1c" transform="rotate(-90 91.69999999999999 410.6)">IgG</text>
<text x="105.74999999999999" y="410.6" font-size="10.4" text-anchor="start" stroke="#1c1c1c" stroke-width="0.28" fill="#1c1c1c" transform="rotate(-90 105.74999999999999 410.6)">HA</text>
<text x="128.1" y="387.9" font-size="10.6" text-anchor="middle" stroke="#1c1c1c" stroke-width="0.28" fill="#1c1c1c">N2</text>
<line x1="118.5" y1="390.7" x2="143.7" y2="390.7" stroke="#1a1a1a" stroke-width="1.7"/>
<text x="123.39999999999999" y="410.6" font-size="10.4" text-anchor="start" stroke="#1c1c1c" stroke-width="0.28" fill="#1c1c1c" transform="rotate(-90 123.39999999999999 410.6)">IgG</text>
<text x="137.45" y="410.6" font-size="10.4" text-anchor="start" stroke="#1c1c1c" stroke-width="0.28" fill="#1c1c1c" transform="rotate(-90 137.45 410.6)">HA</text>
<text x="161.5" y="387.9" font-size="10.6" text-anchor="middle" stroke="#1c1c1c" stroke-width="0.28" fill="#1c1c1c">N3</text>
<line x1="149.3" y1="390.7" x2="175.0" y2="390.7" stroke="#1a1a1a" stroke-width="1.7"/>
<text x="155.1" y="410.6" font-size="10.4" text-anchor="start" stroke="#1c1c1c" stroke-width="0.28" fill="#1c1c1c" transform="rotate(-90 155.1 410.6)">IgG</text>
<text x="169.15" y="410.6" font-size="10.4" text-anchor="start" stroke="#1c1c1c" stroke-width="0.28" fill="#1c1c1c" transform="rotate(-90 169.15 410.6)">HA</text>
<text x="191.0" y="387.9" font-size="10.6" text-anchor="middle" stroke="#1c1c1c" stroke-width="0.28" fill="#1c1c1c">N4</text>
<line x1="179.3" y1="390.7" x2="205.3" y2="390.7" stroke="#1a1a1a" stroke-width="1.7"/>
<text x="186.79999999999998" y="410.6" font-size="10.4" text-anchor="start" stroke="#1c1c1c" stroke-width="0.28" fill="#1c1c1c" transform="rotate(-90 186.79999999999998 410.6)">IgG</text>
<text x="200.85000000000002" y="410.6" font-size="10.4" text-anchor="start" stroke="#1c1c1c" stroke-width="0.28" fill="#1c1c1c" transform="rotate(-90 200.85000000000002 410.6)">HA</text>
<text x="229.6" y="387.9" font-size="10.6" text-anchor="middle" stroke="#1c1c1c" stroke-width="0.28" fill="#1c1c1c">N5</text>
<line x1="214.8" y1="390.7" x2="244.3" y2="390.7" stroke="#1a1a1a" stroke-width="1.7"/>
<text x="223.2" y="410.6" font-size="10.4" text-anchor="start" stroke="#1c1c1c" stroke-width="0.28" fill="#1c1c1c" transform="rotate(-90 223.2 410.6)">IgG</text>
<text x="237.0" y="410.6" font-size="10.4" text-anchor="start" stroke="#1c1c1c" stroke-width="0.28" fill="#1c1c1c" transform="rotate(-90 237.0 410.6)">HA</text>
<text x="260.9" y="387.9" font-size="10.6" text-anchor="middle" stroke="#1c1c1c" stroke-width="0.28" fill="#1c1c1c">N6</text>
<line x1="246.0" y1="390.7" x2="275.0" y2="390.7" stroke="#1a1a1a" stroke-width="1.7"/>
<text x="254.39999999999998" y="410.6" font-size="10.4" text-anchor="start" stroke="#1c1c1c" stroke-width="0.28" fill="#1c1c1c" transform="rotate(-90 254.39999999999998 410.6)">IgG</text>
<text x="268.2" y="410.6" font-size="10.4" text-anchor="start" stroke="#1c1c1c" stroke-width="0.28" fill="#1c1c1c" transform="rotate(-90 268.2 410.6)">HA</text>
<text x="291.5" y="387.9" font-size="10.6" text-anchor="middle" stroke="#1c1c1c" stroke-width="0.28" fill="#1c1c1c">N7</text>
<line x1="278.0" y1="390.7" x2="306.0" y2="390.7" stroke="#1a1a1a" stroke-width="1.7"/>
<text x="285.6" y="410.6" font-size="10.4" text-anchor="start" stroke="#1c1c1c" stroke-width="0.28" fill="#1c1c1c" transform="rotate(-90 285.6 410.6)">IgG</text>
<text x="299.40000000000003" y="410.6" font-size="10.4" text-anchor="start" stroke="#1c1c1c" stroke-width="0.28" fill="#1c1c1c" transform="rotate(-90 299.40000000000003 410.6)">HA</text>
<text x="321.7" y="387.9" font-size="10.6" text-anchor="middle" stroke="#1c1c1c" stroke-width="0.28" fill="#1c1c1c">N8</text>
<line x1="310.6" y1="390.7" x2="337.2" y2="390.7" stroke="#1a1a1a" stroke-width="1.7"/>
<text x="316.8" y="410.6" font-size="10.4" text-anchor="start" stroke="#1c1c1c" stroke-width="0.28" fill="#1c1c1c" transform="rotate(-90 316.8 410.6)">IgG</text>
<text x="330.6" y="410.6" font-size="10.4" text-anchor="start" stroke="#1c1c1c" stroke-width="0.28" fill="#1c1c1c" transform="rotate(-90 330.6 410.6)">HA</text>
<text x="345.7" y="408.0" font-size="10.4" text-anchor="start" stroke="#1c1c1c" stroke-width="0.28" fill="#1c1c1c">KD</text>
<linearGradient id="gdl" x1="0" y1="0" x2="0" y2="1"><stop offset="0" stop-color="#d6d6d6"/><stop offset="0.35" stop-color="#dadada"/><stop offset="1" stop-color="#e0e0e0"/></linearGradient>
<linearGradient id="gdr" x1="0" y1="0" x2="0" y2="1"><stop offset="0" stop-color="#c4c4c4"/><stop offset="0.4" stop-color="#cfcfcf"/><stop offset="1" stop-color="#d6d6d6"/></linearGradient>
<rect x="80.2" y="413.4" width="127.49999999999999" height="61.10000000000002" fill="url(#gdl)" stroke="#555" stroke-width="1.2" rx="0"/>
<rect x="211.2" y="413.2" width="126.5" height="61.0" fill="url(#gdr)" stroke="#555" stroke-width="1.2" rx="0"/>
<rect x="94.5" y="414" width="3" height="60" fill="#fff" opacity="0.18" filter="url(#b1)"/>
<rect x="225.9" y="414" width="3" height="60" fill="#fff" opacity="0.18" filter="url(#b1)"/>
<rect x="110.4" y="414" width="3" height="60" fill="#fff" opacity="0.18" filter="url(#b1)"/>
<rect x="241.5" y="414" width="3" height="60" fill="#fff" opacity="0.18" filter="url(#b1)"/>
<rect x="126.2" y="414" width="3" height="60" fill="#fff" opacity="0.18" filter="url(#b1)"/>
<rect x="257.1" y="414" width="3" height="60" fill="#fff" opacity="0.18" filter="url(#b1)"/>
<rect x="142.1" y="414" width="3" height="60" fill="#fff" opacity="0.18" filter="url(#b1)"/>
<rect x="272.7" y="414" width="3" height="60" fill="#fff" opacity="0.18" filter="url(#b1)"/>
<rect x="157.9" y="414" width="3" height="60" fill="#fff" opacity="0.18" filter="url(#b1)"/>
<rect x="288.3" y="414" width="3" height="60" fill="#fff" opacity="0.18" filter="url(#b1)"/>
<rect x="173.8" y="414" width="3" height="60" fill="#fff" opacity="0.18" filter="url(#b1)"/>
<rect x="303.9" y="414" width="3" height="60" fill="#fff" opacity="0.18" filter="url(#b1)"/>
<rect x="189.6" y="414" width="3" height="60" fill="#fff" opacity="0.18" filter="url(#b1)"/>
<rect x="319.5" y="414" width="3" height="60" fill="#fff" opacity="0.18" filter="url(#b1)"/>
<rect x="82.10" y="415.90" width="12.00" height="2.80" rx="1.40" fill="#000" opacity="0.6" filter="url(#b1)"/>
<rect x="81.70" y="433.90" width="12.80" height="3.40" rx="1.70" fill="#000" opacity="1.0" filter="url(#b1)"/>
<rect x="97.95" y="415.90" width="12.00" height="2.80" rx="1.40" fill="#000" opacity="0.75" filter="url(#b1)"/>
<rect x="97.85" y="433.90" width="12.20" height="3.40" rx="1.70" fill="#000" opacity="0.85" filter="url(#b1)"/>
<rect x="113.80" y="415.90" width="12.00" height="2.80" rx="1.40" fill="#000" opacity="0.55" filter="url(#b1)"/>
<rect x="113.70" y="433.90" width="12.20" height="3.40" rx="1.70" fill="#000" opacity="0.85" filter="url(#b1)"/>
<rect x="129.65" y="415.90" width="12.00" height="2.80" rx="1.40" fill="#000" opacity="0.45" filter="url(#b1)"/>
<rect x="129.55" y="433.90" width="12.20" height="3.40" rx="1.70" fill="#000" opacity="0.8" filter="url(#b1)"/>
<rect x="145.50" y="415.90" width="12.00" height="2.80" rx="1.40" fill="#000" opacity="0.55" filter="url(#b1)"/>
<rect x="145.40" y="433.90" width="12.20" height="3.40" rx="1.70" fill="#000" opacity="0.85" filter="url(#b1)"/>
<rect x="161.35" y="415.90" width="12.00" height="2.80" rx="1.40" fill="#000" opacity="0.6" filter="url(#b1)"/>
<rect x="161.25" y="433.90" width="12.20" height="3.40" rx="1.70" fill="#000" opacity="0.85" filter="url(#b1)"/>
<rect x="177.20" y="415.90" width="12.00" height="2.80" rx="1.40" fill="#000" opacity="0.8" filter="url(#b1)"/>
<rect x="177.10" y="433.90" width="12.20" height="3.40" rx="1.70" fill="#000" opacity="0.95" filter="url(#b1)"/>
<rect x="193.05" y="415.90" width="12.00" height="2.80" rx="1.40" fill="#000" opacity="0.75" filter="url(#b1)"/>
<rect x="192.95" y="433.90" width="12.20" height="3.40" rx="1.70" fill="#000" opacity="0.95" filter="url(#b1)"/>
<rect x="98.45" y="420.40" width="11.00" height="2.40" rx="1.20" fill="#000" opacity="0.7" filter="url(#b1)"/>
<rect x="131.15" y="423.00" width="9.00" height="4.00" rx="2.00" fill="#000" opacity="0.06" filter="url(#b2)"/>
<rect x="213.85" y="415.60" width="11.50" height="3.40" rx="1.70" fill="#000" opacity="0.8" filter="url(#b1)"/>
<rect x="213.60" y="434.10" width="12.00" height="3.00" rx="1.50" fill="#000" opacity="0.9" filter="url(#b1)"/>
<rect x="229.45" y="415.60" width="11.50" height="3.40" rx="1.70" fill="#000" opacity="1.0" filter="url(#b1)"/>
<rect x="229.20" y="434.10" width="12.00" height="3.00" rx="1.50" fill="#000" opacity="0.9" filter="url(#b1)"/>
<rect x="245.05" y="415.60" width="11.50" height="3.40" rx="1.70" fill="#000" opacity="0.7" filter="url(#b1)"/>
<rect x="244.80" y="434.10" width="12.00" height="3.00" rx="1.50" fill="#000" opacity="0.9" filter="url(#b1)"/>
<rect x="260.65" y="415.60" width="11.50" height="3.40" rx="1.70" fill="#000" opacity="0.6" filter="url(#b1)"/>
<rect x="260.40" y="434.10" width="12.00" height="3.00" rx="1.50" fill="#000" opacity="0.9" filter="url(#b1)"/>
<rect x="276.25" y="415.60" width="11.50" height="3.40" rx="1.70" fill="#000" opacity="0.6" filter="url(#b1)"/>
<rect x="276.00" y="434.10" width="12.00" height="3.00" rx="1.50" fill="#000" opacity="0.9" filter="url(#b1)"/>
<rect x="291.85" y="415.60" width="11.50" height="3.40" rx="1.70" fill="#000" opacity="0.6" filter="url(#b1)"/>
<rect x="291.60" y="434.10" width="12.00" height="3.00" rx="1.50" fill="#000" opacity="0.9" filter="url(#b1)"/>
<rect x="307.45" y="415.60" width="11.50" height="3.40" rx="1.70" fill="#000" opacity="0.7" filter="url(#b1)"/>
<rect x="307.20" y="434.10" width="12.00" height="3.00" rx="1.50" fill="#000" opacity="0.9" filter="url(#b1)"/>
<rect x="323.05" y="415.60" width="11.50" height="3.40" rx="1.70" fill="#000" opacity="0.85" filter="url(#b1)"/>
<rect x="322.80" y="434.10" width="12.00" height="3.00" rx="1.50" fill="#000" opacity="0.9" filter="url(#b1)"/>
<rect x="228.60" y="414.10" width="13.20" height="7.80" rx="2.60" fill="#000" opacity="1.0" filter="url(#b1)"/>
<rect x="230.20" y="425.30" width="10.00" height="1.40" rx="0.70" fill="#000" opacity="0.15" filter="url(#b1)"/>
<rect x="291.40" y="440.70" width="12.40" height="2.60" rx="1.30" fill="#000" opacity="0.95" filter="url(#b1)"/>
<text x="65.2" y="488.8" font-size="10.4" text-anchor="end" stroke="#1c1c1c" stroke-width="0.28" fill="#1c1c1c">anti-HA</text>
<rect x="80.4" y="479.6" width="127.29999999999998" height="10.199999999999989" fill="#f8f8f8" stroke="#555" stroke-width="1.2" rx="0"/>
<rect x="211.5" y="479.4" width="126.80000000000001" height="9.900000000000034" fill="#f8f8f8" stroke="#555" stroke-width="1.2" rx="0"/>
<rect x="97.94999999999999" y="480.4" width="12" height="8.6" fill="#b0b0b0" stroke="none" stroke-width="1" rx="0" opacity="0.7"/>
<rect x="98.20" y="482.50" width="11.50" height="4.00" rx="2.00" fill="#000" opacity="1.0" filter="url(#b1)"/>
<rect x="129.64999999999998" y="480.4" width="12" height="8.6" fill="#b0b0b0" stroke="none" stroke-width="1" rx="0" opacity="0.7"/>
<rect x="129.90" y="482.50" width="11.50" height="4.00" rx="2.00" fill="#000" opacity="1.0" filter="url(#b1)"/>
<rect x="161.35" y="480.4" width="12" height="8.6" fill="#b0b0b0" stroke="none" stroke-width="1" rx="0" opacity="0.7"/>
<rect x="161.60" y="482.50" width="11.50" height="4.00" rx="2.00" fill="#000" opacity="1.0" filter="url(#b1)"/>
<rect x="193.05" y="480.4" width="12" height="8.6" fill="#b0b0b0" stroke="none" stroke-width="1" rx="0" opacity="0.7"/>
<rect x="193.30" y="482.50" width="11.50" height="4.00" rx="2.00" fill="#000" opacity="1.0" filter="url(#b1)"/>
<rect x="229.2" y="480.2" width="12" height="8.4" fill="#b0b0b0" stroke="none" stroke-width="1" rx="0" opacity="0.6"/>
<rect x="229.20" y="482.20" width="12.00" height="3.60" rx="1.80" fill="#000" opacity="1.0" filter="url(#b1)"/>
<rect x="260.4" y="480.2" width="12" height="8.4" fill="#b0b0b0" stroke="none" stroke-width="1" rx="0" opacity="0.6"/>
<rect x="260.40" y="482.20" width="12.00" height="3.60" rx="1.80" fill="#000" opacity="1.0" filter="url(#b1)"/>
<rect x="291.6" y="480.2" width="12" height="8.4" fill="#b0b0b0" stroke="none" stroke-width="1" rx="0" opacity="0.6"/>
<rect x="291.60" y="482.50" width="12.00" height="3.00" rx="1.50" fill="#000" opacity="0.9" filter="url(#b1)"/>
<rect x="322.8" y="480.2" width="12" height="8.4" fill="#b0b0b0" stroke="none" stroke-width="1" rx="0" opacity="0.6"/>
<rect x="322.80" y="482.50" width="12.00" height="3.00" rx="1.50" fill="#000" opacity="0.85" filter="url(#b1)"/>
<rect x="80.4" y="492.6" width="127.29999999999998" height="61.60000000000002" fill="#fdfdfd" stroke="#555" stroke-width="1.2" rx="0"/>
<rect x="211.5" y="493.2" width="126.30000000000001" height="60.400000000000034" fill="#fdfdfd" stroke="#555" stroke-width="1.2" rx="0"/>
<rect x="82.70" y="499.10" width="11.40" height="4.20" rx="2.10" fill="#000" opacity="1.0" filter="url(#b1)"/>
<rect x="97.60" y="499.10" width="11.20" height="4.20" rx="2.10" fill="#000" opacity="1.0" filter="url(#b1)"/>
<rect x="112.60" y="501.40" width="12.60" height="3.60" rx="1.80" fill="#000" opacity="1.0" filter="url(#b1)"/>
<rect x="127.70" y="501.40" width="12.20" height="3.60" rx="1.80" fill="#000" opacity="1.0" filter="url(#b1)"/>
<rect x="112.60" y="508.50" width="12.60" height="3.40" rx="1.70" fill="#000" opacity="1.0" filter="url(#b1)"/>
<rect x="127.70" y="508.50" width="12.20" height="3.40" rx="1.70" fill="#000" opacity="1.0" filter="url(#b1)"/>
<rect x="142.40" y="531.80" width="14.40" height="3.60" rx="1.80" fill="#000" opacity="1.0" filter="url(#b1)"/>
<rect x="160.00" y="531.30" width="13.60" height="4.20" rx="2.10" fill="#000" opacity="1.0" filter="url(#b1)"/>
<rect x="177.40" y="546.80" width="12.00" height="1.20" rx="0.60" fill="#000" opacity="0.2" filter="url(#b1)"/>
<rect x="193.40" y="546.70" width="12.00" height="1.40" rx="0.70" fill="#000" opacity="0.25" filter="url(#b1)"/>
<rect x="213.70" y="499.30" width="13.20" height="5.00" rx="2.50" fill="#000" opacity="1.0" filter="url(#b1)"/>
<rect x="229.00" y="499.30" width="13.60" height="5.00" rx="2.50" fill="#000" opacity="1.0" filter="url(#b1)"/>
<rect x="245.30" y="511.80" width="13.40" height="4.40" rx="2.20" fill="#000" opacity="1.0" filter="url(#b1)"/>
<rect x="260.60" y="511.40" width="12.80" height="4.40" rx="2.20" fill="#000" opacity="1.0" filter="url(#b1)"/>
<rect x="276.40" y="535.90" width="13.00" height="2.00" rx="1.00" fill="#000" opacity="0.45" filter="url(#b1)"/>
<rect x="292.30" y="535.70" width="13.00" height="2.00" rx="1.00" fill="#000" opacity="0.5" filter="url(#b1)"/>
<rect x="307.70" y="545.90" width="12.20" height="3.00" rx="1.50" fill="#000" opacity="1.0" filter="url(#b1)"/>
<rect x="323.10" y="545.20" width="11.60" height="3.40" rx="1.70" fill="#000" opacity="1.0" filter="url(#b1)"/>
<text x="71.6" y="568.6" font-size="10.4" text-anchor="end" stroke="#1c1c1c" stroke-width="0.28" fill="#1c1c1c">NLRP3</text>
<rect x="80.5" y="559.0" width="127.1" height="10.5" fill="#f4f4f4" stroke="#555" stroke-width="1.2" rx="0"/>
<rect x="211.5" y="558.8" width="126.80000000000001" height="10.400000000000091" fill="#f4f4f4" stroke="#555" stroke-width="1.2" rx="0"/>
<rect x="81.85" y="562.60" width="12.50" height="3.60" rx="1.80" fill="#000" opacity="0.3" filter="url(#b1)"/>
<rect x="97.70" y="562.60" width="12.50" height="3.60" rx="1.80" fill="#000" opacity="0.3" filter="url(#b1)"/>
<rect x="113.55" y="562.60" width="12.50" height="3.60" rx="1.80" fill="#000" opacity="0.95" filter="url(#b1)"/>
<rect x="129.40" y="562.60" width="12.50" height="3.60" rx="1.80" fill="#000" opacity="0.95" filter="url(#b1)"/>
<rect x="145.25" y="562.60" width="12.50" height="3.60" rx="1.80" fill="#000" opacity="0.95" filter="url(#b1)"/>
<rect x="161.10" y="562.60" width="12.50" height="3.60" rx="1.80" fill="#000" opacity="0.95" filter="url(#b1)"/>
<rect x="176.95" y="562.60" width="12.50" height="3.60" rx="1.80" fill="#000" opacity="0.95" filter="url(#b1)"/>
<rect x="192.80" y="562.60" width="12.50" height="3.60" rx="1.80" fill="#000" opacity="0.95" filter="url(#b1)"/>
<rect x="213.35" y="562.20" width="12.50" height="4.00" rx="2.00" fill="#000" opacity="1.0" filter="url(#b1)"/>
<rect x="228.95" y="562.20" width="12.50" height="4.00" rx="2.00" fill="#000" opacity="1.0" filter="url(#b1)"/>
<rect x="244.55" y="562.20" width="12.50" height="4.00" rx="2.00" fill="#000" opacity="1.0" filter="url(#b1)"/>
<rect x="260.15" y="562.20" width="12.50" height="4.00" rx="2.00" fill="#000" opacity="1.0" filter="url(#b1)"/>
<rect x="275.75" y="562.20" width="12.50" height="4.00" rx="2.00" fill="#000" opacity="0.35" filter="url(#b1)"/>
<rect x="291.35" y="562.20" width="12.50" height="4.00" rx="2.00" fill="#000" opacity="0.35" filter="url(#b1)"/>
<rect x="306.95" y="562.20" width="12.50" height="4.00" rx="2.00" fill="#000" opacity="1.0" filter="url(#b1)"/>
<rect x="322.55" y="562.20" width="12.50" height="4.00" rx="2.00" fill="#000" opacity="1.0" filter="url(#b1)"/>
<text x="58.0" y="445.0" font-size="10.6" text-anchor="middle" stroke="#1c1c1c" stroke-width="0.28" fill="#1c1c1c" transform="rotate(-90 58.0 445.0)">anti-Flag</text>
<line x1="66.5" y1="414.8" x2="66.5" y2="473.7" stroke="#1a1a1a" stroke-width="1.7"/>
<text x="55.8" y="526.0" font-size="10.6" text-anchor="middle" stroke="#1c1c1c" stroke-width="0.28" fill="#1c1c1c" transform="rotate(-90 55.8 526.0)">anti-Flag</text>
<line x1="66.2" y1="493.8" x2="66.2" y2="554.3" stroke="#1a1a1a" stroke-width="1.7"/>
<text x="19.8" y="528.8" font-size="10.6" text-anchor="middle" stroke="#1c1c1c" stroke-width="0.28" fill="#1c1c1c" transform="rotate(-90 19.8 528.8)">Input</text>
<line x1="29.7" y1="495.7" x2="29.7" y2="568.6" stroke="#1a1a1a" stroke-width="1.7"/>
<line x1="338.8" y1="415.6" x2="346.0" y2="415.6" stroke="#1a1a1a" stroke-width="1.7"/>
<text x="346.8" y="419.5" font-size="10.4" text-anchor="start" stroke="#1c1c1c" stroke-width="0.28" fill="#1c1c1c">55</text>
<line x1="338.8" y1="436.6" x2="346.0" y2="436.6" stroke="#1a1a1a" stroke-width="1.7"/>
<text x="346.8" y="440.5" font-size="10.4" text-anchor="start" stroke="#1c1c1c" stroke-width="0.28" fill="#1c1c1c">25</text>
<line x1="338.8" y1="461.6" x2="346.0" y2="461.6" stroke="#1a1a1a" stroke-width="1.7"/>
<text x="346.8" y="465.5" font-size="10.4" text-anchor="start" stroke="#1c1c1c" stroke-width="0.28" fill="#1c1c1c">15</text>
<line x1="338.8" y1="488.4" x2="346.0" y2="488.4" stroke="#1a1a1a" stroke-width="1.7"/>
<text x="346.8" y="492.29999999999995" font-size="10.4" text-anchor="start" stroke="#1c1c1c" stroke-width="0.28" fill="#1c1c1c">100</text>
<line x1="338.8" y1="502.8" x2="346.0" y2="502.8" stroke="#1a1a1a" stroke-width="1.7"/>
<text x="346.8" y="506.7" font-size="10.4" text-anchor="start" stroke="#1c1c1c" stroke-width="0.28" fill="#1c1c1c">40</text>
<line x1="338.8" y1="518.0" x2="346.0" y2="518.0" stroke="#1a1a1a" stroke-width="1.7"/>
<text x="346.8" y="521.9" font-size="10.4" text-anchor="start" stroke="#1c1c1c" stroke-width="0.28" fill="#1c1c1c">35</text>
<line x1="338.8" y1="536.8" x2="346.0" y2="536.8" stroke="#1a1a1a" stroke-width="1.7"/>
<text x="346.8" y="540.6999999999999" font-size="10.4" text-anchor="start" stroke="#1c1c1c" stroke-width="0.28" fill="#1c1c1c">25</text>
<line x1="338.8" y1="552.5" x2="346.0" y2="552.5" stroke="#1a1a1a" stroke-width="1.7"/>
<text x="346.8" y="556.4" font-size="10.4" text-anchor="start" stroke="#1c1c1c" stroke-width="0.28" fill="#1c1c1c">15</text>
<line x1="338.8" y1="567.1" x2="346.0" y2="567.1" stroke="#1a1a1a" stroke-width="1.7"/>
<text x="346.8" y="571.0" font-size="10.4" text-anchor="start" stroke="#1c1c1c" stroke-width="0.28" fill="#1c1c1c">100</text>
<text x="70.2" y="584.1" font-size="10.3" text-anchor="end" stroke="#1c1c1c" stroke-width="0.28" fill="#1c1c1c">Flag-N1</text>
<path d="M85.60 580.50h5M88.10 578.00v5" stroke="#2a2a2a" stroke-width="1.15" fill="none"/>
<path d="M102.00 580.50h5M104.50 578.00v5" stroke="#2a2a2a" stroke-width="1.15" fill="none"/>
<path d="M118.80 580.50h3.2" stroke="#3a3a3a" stroke-width="1.2" fill="none"/>
<path d="M134.30 580.50h3.2" stroke="#3a3a3a" stroke-width="1.2" fill="none"/>
<path d="M150.20 580.50h3.2" stroke="#3a3a3a" stroke-width="1.2" fill="none"/>
<path d="M166.90 580.50h3.2" stroke="#3a3a3a" stroke-width="1.2" fill="none"/>
<path d="M183.30 580.50h3.2" stroke="#3a3a3a" stroke-width="1.2" fill="none"/>
<path d="M198.40 580.50h3.2" stroke="#3a3a3a" stroke-width="1.2" fill="none"/>
<path d="M218.50 580.50h3.2" stroke="#3a3a3a" stroke-width="1.2" fill="none"/>
<path d="M234.90 580.50h3.2" stroke="#3a3a3a" stroke-width="1.2" fill="none"/>
<path d="M251.20 580.50h3.2" stroke="#3a3a3a" stroke-width="1.2" fill="none"/>
<path d="M267.10 580.50h3.2" stroke="#3a3a3a" stroke-width="1.2" fill="none"/>
<path d="M280.90 580.50h3.2" stroke="#3a3a3a" stroke-width="1.2" fill="none"/>
<path d="M297.20 580.50h3.2" stroke="#3a3a3a" stroke-width="1.2" fill="none"/>
<path d="M313.50 580.50h3.2" stroke="#3a3a3a" stroke-width="1.2" fill="none"/>
<path d="M328.10 580.50h3.2" stroke="#3a3a3a" stroke-width="1.2" fill="none"/>
<text x="70.2" y="597.2" font-size="10.3" text-anchor="end" stroke="#1c1c1c" stroke-width="0.28" fill="#1c1c1c">Flag-N2</text>
<path d="M86.50 593.60h3.2" stroke="#3a3a3a" stroke-width="1.2" fill="none"/>
<path d="M102.90 593.60h3.2" stroke="#3a3a3a" stroke-width="1.2" fill="none"/>
<path d="M117.90 593.60h5M120.40 591.10v5" stroke="#2a2a2a" stroke-width="1.15" fill="none"/>
<path d="M133.40 593.60h5M135.90 591.10v5" stroke="#2a2a2a" stroke-width="1.15" fill="none"/>
<path d="M150.20 593.60h3.2" stroke="#3a3a3a" stroke-width="1.2" fill="none"/>
<path d="M166.90 593.60h3.2" stroke="#3a3a3a" stroke-width="1.2" fill="none"/>
<path d="M183.30 593.60h3.2" stroke="#3a3a3a" stroke-width="1.2" fill="none"/>
<path d="M198.40 593.60h3.2" stroke="#3a3a3a" stroke-width="1.2" fill="none"/>
<path d="M218.50 593.60h3.2" stroke="#3a3a3a" stroke-width="1.2" fill="none"/>
<path d="M234.90 593.60h3.2" stroke="#3a3a3a" stroke-width="1.2" fill="none"/>
<path d="M251.20 593.60h3.2" stroke="#3a3a3a" stroke-width="1.2" fill="none"/>
<path d="M267.10 593.60h3.2" stroke="#3a3a3a" stroke-width="1.2" fill="none"/>
<path d="M280.90 593.60h3.2" stroke="#3a3a3a" stroke-width="1.2" fill="none"/>
<path d="M297.20 593.60h3.2" stroke="#3a3a3a" stroke-width="1.2" fill="none"/>
<path d="M313.50 593.60h3.2" stroke="#3a3a3a" stroke-width="1.2" fill="none"/>
<path d="M328.10 593.60h3.2" stroke="#3a3a3a" stroke-width="1.2" fill="none"/>
<text x="70.2" y="610.9" font-size="10.3" text-anchor="end" stroke="#1c1c1c" stroke-width="0.28" fill="#1c1c1c">Flag-N3</text>
<path d="M86.50 607.30h3.2" stroke="#3a3a3a" stroke-width="1.2" fill="none"/>
<path d="M102.90 607.30h3.2" stroke="#3a3a3a" stroke-width="1.2" fill="none"/>
<path d="M118.80 607.30h3.2" stroke="#3a3a3a" stroke-width="1.2" fill="none"/>
<path d="M134.30 607.30h3.2" stroke="#3a3a3a" stroke-width="1.2" fill="none"/>
<path d="M149.30 607.30h5M151.80 604.80v5" stroke="#2a2a2a" stroke-width="1.15" fill="none"/>
<path d="M166.00 607.30h5M168.50 604.80v5" stroke="#2a2a2a" stroke-width="1.15" fill="none"/>
<path d="M183.30 607.30h3.2" stroke="#3a3a3a" stroke-width="1.2" fill="none"/>
<path d="M198.40 607.30h3.2" stroke="#3a3a3a" stroke-width="1.2" fill="none"/>
<path d="M218.50 607.30h3.2" stroke="#3a3a3a" stroke-width="1.2" fill="none"/>
<path d="M234.90 607.30h3.2" stroke="#3a3a3a" stroke-width="1.2" fill="none"/>
<path d="M251.20 607.30h3.2" stroke="#3a3a3a" stroke-width="1.2" fill="none"/>
<path d="M267.10 607.30h3.2" stroke="#3a3a3a" stroke-width="1.2" fill="none"/>
<path d="M280.90 607.30h3.2" stroke="#3a3a3a" stroke-width="1.2" fill="none"/>
<path d="M297.20 607.30h3.2" stroke="#3a3a3a" stroke-width="1.2" fill="none"/>
<path d="M313.50 607.30h3.2" stroke="#3a3a3a" stroke-width="1.2" fill="none"/>
<path d="M328.10 607.30h3.2" stroke="#3a3a3a" stroke-width="1.2" fill="none"/>
<text x="70.2" y="625.5" font-size="10.3" text-anchor="end" stroke="#1c1c1c" stroke-width="0.28" fill="#1c1c1c">Flag-N4</text>
<path d="M86.50 621.90h3.2" stroke="#3a3a3a" stroke-width="1.2" fill="none"/>
<path d="M102.90 621.90h3.2" stroke="#3a3a3a" stroke-width="1.2" fill="none"/>
<path d="M118.80 621.90h3.2" stroke="#3a3a3a" stroke-width="1.2" fill="none"/>
<path d="M134.30 621.90h3.2" stroke="#3a3a3a" stroke-width="1.2" fill="none"/>
<path d="M150.20 621.90h3.2" stroke="#3a3a3a" stroke-width="1.2" fill="none"/>
<path d="M166.90 621.90h3.2" stroke="#3a3a3a" stroke-width="1.2" fill="none"/>
<path d="M182.40 621.90h5M184.90 619.40v5" stroke="#2a2a2a" stroke-width="1.15" fill="none"/>
<path d="M197.50 621.90h5M200.00 619.40v5" stroke="#2a2a2a" stroke-width="1.15" fill="none"/>
<path d="M218.50 621.90h3.2" stroke="#3a3a3a" stroke-width="1.2" fill="none"/>
<path d="M234.90 621.90h3.2" stroke="#3a3a3a" stroke-width="1.2" fill="none"/>
<path d="M251.20 621.90h3.2" stroke="#3a3a3a" stroke-width="1.2" fill="none"/>
<path d="M267.10 621.90h3.2" stroke="#3a3a3a" stroke-width="1.2" fill="none"/>
<path d="M280.90 621.90h3.2" stroke="#3a3a3a" stroke-width="1.2" fill="none"/>
<path d="M297.20 621.90h3.2" stroke="#3a3a3a" stroke-width="1.2" fill="none"/>
<path d="M313.50 621.90h3.2" stroke="#3a3a3a" stroke-width="1.2" fill="none"/>
<path d="M328.10 621.90h3.2" stroke="#3a3a3a" stroke-width="1.2" fill="none"/>
<text x="70.2" y="638.6" font-size="10.3" text-anchor="end" stroke="#1c1c1c" stroke-width="0.28" fill="#1c1c1c">Flag-N5</text>
<path d="M86.50 635.00h3.2" stroke="#3a3a3a" stroke-width="1.2" fill="none"/>
<path d="M102.90 635.00h3.2" stroke="#3a3a3a" stroke-width="1.2" fill="none"/>
<path d="M118.80 635.00h3.2" stroke="#3a3a3a" stroke-width="1.2" fill="none"/>
<path d="M134.30 635.00h3.2" stroke="#3a3a3a" stroke-width="1.2" fill="none"/>
<path d="M150.20 635.00h3.2" stroke="#3a3a3a" stroke-width="1.2" fill="none"/>
<path d="M166.90 635.00h3.2" stroke="#3a3a3a" stroke-width="1.2" fill="none"/>
<path d="M183.30 635.00h3.2" stroke="#3a3a3a" stroke-width="1.2" fill="none"/>
<path d="M198.40 635.00h3.2" stroke="#3a3a3a" stroke-width="1.2" fill="none"/>
<path d="M217.60 635.00h5M220.10 632.50v5" stroke="#2a2a2a" stroke-width="1.15" fill="none"/>
<path d="M234.00 635.00h5M236.50 632.50v5" stroke="#2a2a2a" stroke-width="1.15" fill="none"/>
<path d="M251.20 635.00h3.2" stroke="#3a3a3a" stroke-width="1.2" fill="none"/>
<path d="M267.10 635.00h3.2" stroke="#3a3a3a" stroke-width="1.2" fill="none"/>
<path d="M280.90 635.00h3.2" stroke="#3a3a3a" stroke-width="1.2" fill="none"/>
<path d="M297.20 635.00h3.2" stroke="#3a3a3a" stroke-width="1.2" fill="none"/>
<path d="M313.50 635.00h3.2" stroke="#3a3a3a" stroke-width="1.2" fill="none"/>
<path d="M328.10 635.00h3.2" stroke="#3a3a3a" stroke-width="1.2" fill="none"/>
<text x="70.2" y="651.1" font-size="10.3" text-anchor="end" stroke="#1c1c1c" stroke-width="0.28" fill="#1c1c1c">Flag-N6</text>
<path d="M86.50 647.50h3.2" stroke="#3a3a3a" stroke-width="1.2" fill="none"/>
<path d="M102.90 647.50h3.2" stroke="#3a3a3a" stroke-width="1.2" fill="none"/>
<path d="M118.80 647.50h3.2" stroke="#3a3a3a" stroke-width="1.2" fill="none"/>
<path d="M134.30 647.50h3.2" stroke="#3a3a3a" stroke-width="1.2" fill="none"/>
<path d="M150.20 647.50h3.2" stroke="#3a3a3a" stroke-width="1.2" fill="none"/>
<path d="M166.90 647.50h3.2" stroke="#3a3a3a" stroke-width="1.2" fill="none"/>
<path d="M183.30 647.50h3.2" stroke="#3a3a3a" stroke-width="1.2" fill="none"/>
<path d="M198.40 647.50h3.2" stroke="#3a3a3a" stroke-width="1.2" fill="none"/>
<path d="M218.50 647.50h3.2" stroke="#3a3a3a" stroke-width="1.2" fill="none"/>
<path d="M234.90 647.50h3.2" stroke="#3a3a3a" stroke-width="1.2" fill="none"/>
<path d="M250.30 647.50h5M252.80 645.00v5" stroke="#2a2a2a" stroke-width="1.15" fill="none"/>
<path d="M266.20 647.50h5M268.70 645.00v5" stroke="#2a2a2a" stroke-width="1.15" fill="none"/>
<path d="M280.90 647.50h3.2" stroke="#3a3a3a" stroke-width="1.2" fill="none"/>
<path d="M297.20 647.50h3.2" stroke="#3a3a3a" stroke-width="1.2" fill="none"/>
<path d="M313.50 647.50h3.2" stroke="#3a3a3a" stroke-width="1.2" fill="none"/>
<path d="M328.10 647.50h3.2" stroke="#3a3a3a" stroke-width="1.2" fill="none"/>
<text x="70.2" y="664.7" font-size="10.3" text-anchor="end" stroke="#1c1c1c" stroke-width="0.28" fill="#1c1c1c">Flag-N7</text>
<path d="M86.50 661.10h3.2" stroke="#3a3a3a" stroke-width="1.2" fill="none"/>
<path d="M102.90 661.10h3.2" stroke="#3a3a3a" stroke-width="1.2" fill="none"/>
<path d="M118.80 661.10h3.2" stroke="#3a3a3a" stroke-width="1.2" fill="none"/>
<path d="M134.30 661.10h3.2" stroke="#3a3a3a" stroke-width="1.2" fill="none"/>
<path d="M150.20 661.10h3.2" stroke="#3a3a3a" stroke-width="1.2" fill="none"/>
<path d="M166.90 661.10h3.2" stroke="#3a3a3a" stroke-width="1.2" fill="none"/>
<path d="M183.30 661.10h3.2" stroke="#3a3a3a" stroke-width="1.2" fill="none"/>
<path d="M198.40 661.10h3.2" stroke="#3a3a3a" stroke-width="1.2" fill="none"/>
<path d="M218.50 661.10h3.2" stroke="#3a3a3a" stroke-width="1.2" fill="none"/>
<path d="M234.90 661.10h3.2" stroke="#3a3a3a" stroke-width="1.2" fill="none"/>
<path d="M251.20 661.10h3.2" stroke="#3a3a3a" stroke-width="1.2" fill="none"/>
<path d="M267.10 661.10h3.2" stroke="#3a3a3a" stroke-width="1.2" fill="none"/>
<path d="M280.00 661.10h5M282.50 658.60v5" stroke="#2a2a2a" stroke-width="1.15" fill="none"/>
<path d="M296.30 661.10h5M298.80 658.60v5" stroke="#2a2a2a" stroke-width="1.15" fill="none"/>
<path d="M313.50 661.10h3.2" stroke="#3a3a3a" stroke-width="1.2" fill="none"/>
<path d="M328.10 661.10h3.2" stroke="#3a3a3a" stroke-width="1.2" fill="none"/>
<text x="70.2" y="677.6" font-size="10.3" text-anchor="end" stroke="#1c1c1c" stroke-width="0.28" fill="#1c1c1c">Flag-N8</text>
<path d="M86.50 674.00h3.2" stroke="#3a3a3a" stroke-width="1.2" fill="none"/>
<path d="M102.90 674.00h3.2" stroke="#3a3a3a" stroke-width="1.2" fill="none"/>
<path d="M118.80 674.00h3.2" stroke="#3a3a3a" stroke-width="1.2" fill="none"/>
<path d="M134.30 674.00h3.2" stroke="#3a3a3a" stroke-width="1.2" fill="none"/>
<path d="M150.20 674.00h3.2" stroke="#3a3a3a" stroke-width="1.2" fill="none"/>
<path d="M166.90 674.00h3.2" stroke="#3a3a3a" stroke-width="1.2" fill="none"/>
<path d="M183.30 674.00h3.2" stroke="#3a3a3a" stroke-width="1.2" fill="none"/>
<path d="M198.40 674.00h3.2" stroke="#3a3a3a" stroke-width="1.2" fill="none"/>
<path d="M218.50 674.00h3.2" stroke="#3a3a3a" stroke-width="1.2" fill="none"/>
<path d="M234.90 674.00h3.2" stroke="#3a3a3a" stroke-width="1.2" fill="none"/>
<path d="M251.20 674.00h3.2" stroke="#3a3a3a" stroke-width="1.2" fill="none"/>
<path d="M267.10 674.00h3.2" stroke="#3a3a3a" stroke-width="1.2" fill="none"/>
<path d="M280.90 674.00h3.2" stroke="#3a3a3a" stroke-width="1.2" fill="none"/>
<path d="M297.20 674.00h3.2" stroke="#3a3a3a" stroke-width="1.2" fill="none"/>
<path d="M312.60 674.00h5M315.10 671.50v5" stroke="#2a2a2a" stroke-width="1.15" fill="none"/>
<path d="M327.20 674.00h5M329.70 671.50v5" stroke="#2a2a2a" stroke-width="1.15" fill="none"/>
<text x="70.2" y="690.0" font-size="10.3" text-anchor="end" stroke="#1c1c1c" stroke-width="0.28" fill="#1c1c1c">HA-NLRP3</text>
<path d="M85.60 686.40h5M88.10 683.90v5" stroke="#2a2a2a" stroke-width="1.15" fill="none"/>
<path d="M102.00 686.40h5M104.50 683.90v5" stroke="#2a2a2a" stroke-width="1.15" fill="none"/>
<path d="M117.90 686.40h5M120.40 683.90v5" stroke="#2a2a2a" stroke-width="1.15" fill="none"/>
<path d="M133.40 686.40h5M135.90 683.90v5" stroke="#2a2a2a" stroke-width="1.15" fill="none"/>
<path d="M149.30 686.40h5M151.80 683.90v5" stroke="#2a2a2a" stroke-width="1.15" fill="none"/>
<path d="M166.00 686.40h5M168.50 683.90v5" stroke="#2a2a2a" stroke-width="1.15" fill="none"/>
<path d="M182.40 686.40h5M184.90 683.90v5" stroke="#2a2a2a" stroke-width="1.15" fill="none"/>
<path d="M197.50 686.40h5M200.00 683.90v5" stroke="#2a2a2a" stroke-width="1.15" fill="none"/>
<path d="M217.60 686.40h5M220.10 683.90v5" stroke="#2a2a2a" stroke-width="1.15" fill="none"/>
<path d="M234.00 686.40h5M236.50 683.90v5" stroke="#2a2a2a" stroke-width="1.15" fill="none"/>
<path d="M250.30 686.40h5M252.80 683.90v5" stroke="#2a2a2a" stroke-width="1.15" fill="none"/>
<path d="M266.20 686.40h5M268.70 683.90v5" stroke="#2a2a2a" stroke-width="1.15" fill="none"/>
<path d="M280.00 686.40h5M282.50 683.90v5" stroke="#2a2a2a" stroke-width="1.15" fill="none"/>
<path d="M296.30 686.40h5M298.80 683.90v5" stroke="#2a2a2a" stroke-width="1.15" fill="none"/>
<path d="M312.60 686.40h5M315.10 683.90v5" stroke="#2a2a2a" stroke-width="1.15" fill="none"/>
<path d="M327.20 686.40h5M329.70 683.90v5" stroke="#2a2a2a" stroke-width="1.15" fill="none"/>
<text x="0" y="0" font-size="25" font-weight="bold" fill="#000" transform="translate(450.0 359.2) scale(1.12 1)">e</text>
<text x="639.0" y="360.6" font-size="10.4" text-anchor="middle" stroke="#1c1c1c" stroke-width="0.28" fill="#1c1c1c">A549</text>
<line x1="508.3" y1="372.3" x2="765.2" y2="372.3" stroke="#1a1a1a" stroke-width="1.7"/>
<text x="778.0" y="380.8" font-size="10.4" text-anchor="start" stroke="#1c1c1c" stroke-width="0.28" fill="#1c1c1c">KD</text>
<text x="501.6" y="399.2" font-size="10.4" text-anchor="end" stroke="#1c1c1c" stroke-width="0.28" fill="#1c1c1c">anti-HA</text>
<text x="479.7" y="442.0" font-size="10.6" text-anchor="middle" stroke="#1c1c1c" stroke-width="0.28" fill="#1c1c1c" transform="rotate(-90 479.7 442.0)">anti-Flag</text>
<line x1="494.0" y1="409.0" x2="494.0" y2="481.0" stroke="#1a1a1a" stroke-width="1.7"/>
<rect x="509.2" y="389.2" width="124.09999999999997" height="11.0" fill="#bcbcbc" stroke="#555" stroke-width="1.2" rx="0"/>
<rect x="524.80" y="393.10" width="8.00" height="2.20" rx="1.10" fill="#000" opacity="0.85" filter="url(#b1)"/>
<rect x="537.05" y="393.60" width="7.50" height="1.60" rx="0.80" fill="#000" opacity="0.35" filter="url(#b1)"/>
<rect x="584.40" y="391.80" width="9.60" height="6.80" rx="2.60" fill="#000" opacity="1.0" filter="url(#b1)"/>
<rect x="597.10" y="393.50" width="8.20" height="2.20" rx="1.10" fill="#000" opacity="0.7" filter="url(#b1)"/>
<rect x="609.60" y="394.00" width="8.00" height="1.60" rx="0.80" fill="#000" opacity="0.3" filter="url(#b1)"/>
<rect x="509.4" y="408.7" width="123.89999999999998" height="72.90000000000003" fill="#c0c0c0" stroke="#555" stroke-width="1.2" rx="0"/>
<rect x="512.20" y="414.90" width="8.00" height="2.60" rx="1.30" fill="#000" opacity="0.95" filter="url(#b1)"/>
<rect x="512.20" y="456.40" width="8.00" height="1.60" rx="0.80" fill="#000" opacity="0.13" filter="url(#b1)"/>
<rect x="524.50" y="414.90" width="8.00" height="2.60" rx="1.30" fill="#000" opacity="0.95" filter="url(#b1)"/>
<rect x="524.50" y="456.40" width="8.00" height="1.60" rx="0.80" fill="#000" opacity="0.13" filter="url(#b1)"/>
<rect x="536.00" y="414.90" width="8.00" height="2.60" rx="1.30" fill="#000" opacity="0.95" filter="url(#b1)"/>
<rect x="536.00" y="456.40" width="8.00" height="1.60" rx="0.80" fill="#000" opacity="0.13" filter="url(#b1)"/>
<rect x="547.70" y="414.90" width="8.00" height="2.60" rx="1.30" fill="#000" opacity="0.95" filter="url(#b1)"/>
<rect x="547.70" y="456.40" width="8.00" height="1.60" rx="0.80" fill="#000" opacity="0.13" filter="url(#b1)"/>
<rect x="560.10" y="414.90" width="8.00" height="2.60" rx="1.30" fill="#000" opacity="0.95" filter="url(#b1)"/>
<rect x="572.20" y="414.90" width="8.00" height="2.60" rx="1.30" fill="#000" opacity="0.95" filter="url(#b1)"/>
<rect x="572.20" y="456.40" width="8.00" height="1.60" rx="0.80" fill="#000" opacity="0.13" filter="url(#b1)"/>
<rect x="584.30" y="414.90" width="8.00" height="2.60" rx="1.30" fill="#000" opacity="0.95" filter="url(#b1)"/>
<rect x="584.30" y="456.40" width="8.00" height="1.60" rx="0.80" fill="#000" opacity="0.13" filter="url(#b1)"/>
<rect x="596.40" y="414.90" width="8.00" height="2.60" rx="1.30" fill="#000" opacity="0.95" filter="url(#b1)"/>
<rect x="596.40" y="456.40" width="8.00" height="1.60" rx="0.80" fill="#000" opacity="0.13" filter="url(#b1)"/>
<rect x="608.70" y="414.90" width="8.00" height="2.60" rx="1.30" fill="#000" opacity="0.95" filter="url(#b1)"/>
<rect x="621.10" y="414.90" width="8.00" height="2.60" rx="1.30" fill="#000" opacity="0.95" filter="url(#b1)"/>
<rect x="621.10" y="456.40" width="8.00" height="1.60" rx="0.80" fill="#000" opacity="0.13" filter="url(#b1)"/>
<rect x="523.00" y="411.50" width="11.00" height="9.20" rx="2.60" fill="#000" opacity="1.0" filter="url(#b1)"/>
<rect x="535.10" y="423.60" width="9.60" height="6.00" rx="2.60" fill="#000" opacity="1.0" filter="url(#b1)"/>
<rect x="547.30" y="426.70" width="9.40" height="8.60" rx="2.60" fill="#000" opacity="1.0" filter="url(#b1)"/>
<rect x="559.10" y="455.70" width="9.60" height="5.80" rx="2.60" fill="#000" opacity="1.0" filter="url(#b1)"/>
<rect x="573.70" y="473.60" width="5.00" height="1.60" rx="0.80" fill="#000" opacity="0.25" filter="url(#b1)"/>
<rect x="583.40" y="420.00" width="10.20" height="7.60" rx="2.60" fill="#000" opacity="1.0" filter="url(#b1)"/>
<rect x="595.60" y="433.30" width="9.60" height="5.40" rx="2.60" fill="#000" opacity="1.0" filter="url(#b1)"/>
<rect x="608.00" y="456.20" width="9.60" height="5.60" rx="2.60" fill="#000" opacity="1.0" filter="url(#b1)"/>
<rect x="621.60" y="472.80" width="7.00" height="2.40" rx="1.20" fill="#000" opacity="0.6" filter="url(#b1)"/>
<rect x="643.6" y="389.3" width="124.69999999999993" height="10.699999999999989" fill="#e2e2e2" stroke="#555" stroke-width="1.2" rx="0"/>
<rect x="647.70" y="392.20" width="9.60" height="3.60" rx="1.80" fill="#000" opacity="1.0" filter="url(#b1)"/>
<rect x="659.60" y="392.20" width="9.60" height="3.60" rx="1.80" fill="#000" opacity="1.0" filter="url(#b1)"/>
<rect x="671.80" y="392.40" width="9.60" height="3.20" rx="1.60" fill="#000" opacity="1.0" filter="url(#b1)"/>
<rect x="684.00" y="391.80" width="9.60" height="4.40" rx="2.20" fill="#000" opacity="1.0" filter="url(#b1)"/>
<rect x="696.30" y="392.40" width="9.60" height="3.20" rx="1.60" fill="#000" opacity="1.0" filter="url(#b1)"/>
<rect x="708.50" y="391.70" width="9.60" height="4.60" rx="2.30" fill="#000" opacity="1.0" filter="url(#b1)"/>
<rect x="720.70" y="391.10" width="9.60" height="5.80" rx="2.60" fill="#000" opacity="1.0" filter="url(#b1)"/>
<rect x="732.90" y="391.50" width="9.60" height="5.00" rx="2.50" fill="#000" opacity="1.0" filter="url(#b1)"/>
<rect x="745.10" y="391.60" width="9.60" height="4.80" rx="2.40" fill="#000" opacity="1.0" filter="url(#b1)"/>
<rect x="757.20" y="391.60" width="9.60" height="4.80" rx="2.40" fill="#000" opacity="1.0" filter="url(#b1)"/>
<radialGradient id="spot"><stop offset="0" stop-color="#fff" stop-opacity="0.8"/><stop offset="1" stop-color="#fff" stop-opacity="0"/></radialGradient>
<linearGradient id="gei" x1="0" y1="0" x2="1" y2="0"><stop offset="0" stop-color="#a9a9a9"/><stop offset="0.5" stop-color="#9e9e9e"/><stop offset="1" stop-color="#a2a2a2"/></linearGradient>
<rect x="643.6" y="409.0" width="124.69999999999993" height="73.39999999999998" fill="url(#gei)" stroke="#555" stroke-width="1.2" rx="0"/>
<ellipse cx="663" cy="429" rx="9" ry="8" fill="url(#spot)"/>
<ellipse cx="649" cy="465" rx="6" ry="8" fill="url(#spot)" opacity="0.5"/>
<ellipse cx="742" cy="475" rx="5" ry="6" fill="url(#spot)" opacity="0.5"/>
<rect x="659.10" y="411.60" width="10.40" height="4.80" rx="2.40" fill="#000" opacity="1.0" filter="url(#b1)"/>
<rect x="660.05" y="417.30" width="8.50" height="2.20" rx="1.10" fill="#000" opacity="0.3" filter="url(#b1)"/>
<rect x="671.75" y="422.60" width="8.50" height="2.00" rx="1.00" fill="#000" opacity="0.45" filter="url(#b1)"/>
<rect x="682.50" y="425.70" width="9.60" height="4.00" rx="2.00" fill="#000" opacity="1.0" filter="url(#b1)"/>
<rect x="683.00" y="431.10" width="8.60" height="2.20" rx="1.10" fill="#000" opacity="0.7" filter="url(#b1)"/>
<rect x="695.00" y="456.90" width="9.60" height="3.60" rx="1.80" fill="#000" opacity="1.0" filter="url(#b1)"/>
<rect x="707.15" y="472.00" width="8.50" height="2.80" rx="1.40" fill="#000" opacity="0.3" filter="url(#b1)"/>
<rect x="718.00" y="418.60" width="9.60" height="3.20" rx="1.60" fill="#000" opacity="1.0" filter="url(#b1)"/>
<rect x="730.20" y="429.60" width="9.60" height="3.60" rx="1.80" fill="#000" opacity="1.0" filter="url(#b1)"/>
<rect x="742.40" y="453.90" width="9.20" height="3.00" rx="1.50" fill="#000" opacity="0.7" filter="url(#b1)"/>
<rect x="755.10" y="468.50" width="9.20" height="3.00" rx="1.50" fill="#000" opacity="0.65" filter="url(#b1)"/>
<line x1="769.0" y1="396.0" x2="776.0" y2="396.0" stroke="#1a1a1a" stroke-width="1.7"/>
<text x="777.0" y="399.9" font-size="10.4" text-anchor="start" stroke="#1c1c1c" stroke-width="0.28" fill="#1c1c1c">100</text>
<line x1="769.0" y1="411.9" x2="776.0" y2="411.9" stroke="#1a1a1a" stroke-width="1.7"/>
<text x="777.0" y="415.79999999999995" font-size="10.4" text-anchor="start" stroke="#1c1c1c" stroke-width="0.28" fill="#1c1c1c">55</text>
<line x1="769.0" y1="424.3" x2="776.0" y2="424.3" stroke="#1a1a1a" stroke-width="1.7"/>
<text x="777.0" y="428.2" font-size="10.4" text-anchor="start" stroke="#1c1c1c" stroke-width="0.28" fill="#1c1c1c">40</text>
<line x1="769.0" y1="436.0" x2="776.0" y2="436.0" stroke="#1a1a1a" stroke-width="1.7"/>
<text x="777.0" y="439.9" font-size="10.4" text-anchor="start" stroke="#1c1c1c" stroke-width="0.28" fill="#1c1c1c">35</text>
<line x1="769.0" y1="458.0" x2="776.0" y2="458.0" stroke="#1a1a1a" stroke-width="1.7"/>
<text x="777.0" y="461.9" font-size="10.4" text-anchor="start" stroke="#1c1c1c" stroke-width="0.28" fill="#1c1c1c">25</text>
<line x1="769.0" y1="477.2" x2="776.0" y2="477.2" stroke="#1a1a1a" stroke-width="1.7"/>
<text x="777.0" y="481.09999999999997" font-size="10.4" text-anchor="start" stroke="#1c1c1c" stroke-width="0.28" fill="#1c1c1c">15</text>
<text x="488.3" y="496.90000000000003" font-size="10.3" text-anchor="end" stroke="#1c1c1c" stroke-width="0.28" fill="#1c1c1c">Flag-ctrl</text>
<path d="M514.40 493.30h5M516.90 490.80v5" stroke="#2a2a2a" stroke-width="1.15" fill="none"/>
<path d="M526.70 493.30h3.2" stroke="#3a3a3a" stroke-width="1.2" fill="none"/>
<path d="M538.40 493.30h3.2" stroke="#3a3a3a" stroke-width="1.2" fill="none"/>
<path d="M550.80 493.30h3.2" stroke="#3a3a3a" stroke-width="1.2" fill="none"/>
<path d="M564.00 493.30h3.2" stroke="#3a3a3a" stroke-width="1.2" fill="none"/>
<path d="M577.30 493.30h3.2" stroke="#3a3a3a" stroke-width="1.2" fill="none"/>
<path d="M590.70 493.30h3.2" stroke="#3a3a3a" stroke-width="1.2" fill="none"/>
<path d="M601.60 493.30h3.2" stroke="#3a3a3a" stroke-width="1.2" fill="none"/>
<path d="M612.50 493.30h3.2" stroke="#3a3a3a" stroke-width="1.2" fill="none"/>
<path d="M627.40 493.30h3.2" stroke="#3a3a3a" stroke-width="1.2" fill="none"/>
<text x="488.3" y="510.07000000000005" font-size="10.3" text-anchor="end" stroke="#1c1c1c" stroke-width="0.28" fill="#1c1c1c">Flag-N</text>
<path d="M514.50 506.47h3.2" stroke="#3a3a3a" stroke-width="1.2" fill="none"/>
<path d="M526.10 506.47h5M528.60 503.97v5" stroke="#2a2a2a" stroke-width="1.15" fill="none"/>
<path d="M538.90 506.47h3.2" stroke="#3a3a3a" stroke-width="1.2" fill="none"/>
<path d="M551.40 506.47h3.2" stroke="#3a3a3a" stroke-width="1.2" fill="none"/>
<path d="M563.30 506.47h3.2" stroke="#3a3a3a" stroke-width="1.2" fill="none"/>
<path d="M577.30 506.47h3.2" stroke="#3a3a3a" stroke-width="1.2" fill="none"/>
<path d="M590.70 506.47h3.2" stroke="#3a3a3a" stroke-width="1.2" fill="none"/>
<path d="M601.60 506.47h3.2" stroke="#3a3a3a" stroke-width="1.2" fill="none"/>
<path d="M612.80 506.47h3.2" stroke="#3a3a3a" stroke-width="1.2" fill="none"/>
<path d="M627.60 506.47h3.2" stroke="#3a3a3a" stroke-width="1.2" fill="none"/>
<text x="488.3" y="523.24" font-size="10.3" text-anchor="end" stroke="#1c1c1c" stroke-width="0.28" fill="#1c1c1c">Flag-N1</text>
<path d="M514.80 519.64h3.2" stroke="#3a3a3a" stroke-width="1.2" fill="none"/>
<path d="M526.70 519.64h3.2" stroke="#3a3a3a" stroke-width="1.2" fill="none"/>
<path d="M536.50 519.64h5M539.00 517.14v5" stroke="#2a2a2a" stroke-width="1.15" fill="none"/>
<path d="M551.80 519.64h3.2" stroke="#3a3a3a" stroke-width="1.2" fill="none"/>
<path d="M563.60 519.64h3.2" stroke="#3a3a3a" stroke-width="1.2" fill="none"/>
<path d="M576.20 519.64h3.2" stroke="#3a3a3a" stroke-width="1.2" fill="none"/>
<path d="M589.60 519.64h3.2" stroke="#3a3a3a" stroke-width="1.2" fill="none"/>
<path d="M601.30 519.64h3.2" stroke="#3a3a3a" stroke-width="1.2" fill="none"/>
<path d="M612.00 519.64h3.2" stroke="#3a3a3a" stroke-width="1.2" fill="none"/>
<path d="M626.90 519.64h3.2" stroke="#3a3a3a" stroke-width="1.2" fill="none"/>
<text x="488.3" y="536.4100000000001" font-size="10.3" text-anchor="end" stroke="#1c1c1c" stroke-width="0.28" fill="#1c1c1c">Flag-N2</text>
<path d="M514.80 532.81h3.2" stroke="#3a3a3a" stroke-width="1.2" fill="none"/>
<path d="M527.00 532.81h3.2" stroke="#3a3a3a" stroke-width="1.2" fill="none"/>
<path d="M537.70 532.81h3.2" stroke="#3a3a3a" stroke-width="1.2" fill="none"/>
<path d="M546.40 532.81h5M548.90 530.31v5" stroke="#2a2a2a" stroke-width="1.15" fill="none"/>
<path d="M562.50 532.81h3.2" stroke="#3a3a3a" stroke-width="1.2" fill="none"/>
<path d="M574.70 532.81h3.2" stroke="#3a3a3a" stroke-width="1.2" fill="none"/>
<path d="M584.30 532.81h3.2" stroke="#3a3a3a" stroke-width="1.2" fill="none"/>
<path d="M596.00 532.81h3.2" stroke="#3a3a3a" stroke-width="1.2" fill="none"/>
<path d="M610.50 532.81h3.2" stroke="#3a3a3a" stroke-width="1.2" fill="none"/>
<path d="M625.60 532.81h3.2" stroke="#3a3a3a" stroke-width="1.2" fill="none"/>
<text x="488.3" y="549.58" font-size="10.3" text-anchor="end" stroke="#1c1c1c" stroke-width="0.28" fill="#1c1c1c">Flag-N3</text>
<path d="M514.80 545.98h3.2" stroke="#3a3a3a" stroke-width="1.2" fill="none"/>
<path d="M526.70 545.98h3.2" stroke="#3a3a3a" stroke-width="1.2" fill="none"/>
<path d="M537.70 545.98h3.2" stroke="#3a3a3a" stroke-width="1.2" fill="none"/>
<path d="M547.30 545.98h3.2" stroke="#3a3a3a" stroke-width="1.2" fill="none"/>
<path d="M557.30 545.98h5M559.80 543.48v5" stroke="#2a2a2a" stroke-width="1.15" fill="none"/>
<path d="M572.10 545.98h3.2" stroke="#3a3a3a" stroke-width="1.2" fill="none"/>
<path d="M583.40 545.98h3.2" stroke="#3a3a3a" stroke-width="1.2" fill="none"/>
<path d="M596.00 545.98h3.2" stroke="#3a3a3a" stroke-width="1.2" fill="none"/>
<path d="M610.50 545.98h3.2" stroke="#3a3a3a" stroke-width="1.2" fill="none"/>
<path d="M625.60 545.98h3.2" stroke="#3a3a3a" stroke-width="1.2" fill="none"/>
<text x="488.3" y="562.75" font-size="10.3" text-anchor="end" stroke="#1c1c1c" stroke-width="0.28" fill="#1c1c1c">Flag-N4</text>
<path d="M514.80 559.15h3.2" stroke="#3a3a3a" stroke-width="1.2" fill="none"/>
<path d="M526.70 559.15h3.2" stroke="#3a3a3a" stroke-width="1.2" fill="none"/>
<path d="M537.80 559.15h3.2" stroke="#3a3a3a" stroke-width="1.2" fill="none"/>
<path d="M547.30 559.15h3.2" stroke="#3a3a3a" stroke-width="1.2" fill="none"/>
<path d="M558.20 559.15h3.2" stroke="#3a3a3a" stroke-width="1.2" fill="none"/>
<path d="M571.50 559.15h5M574.00 556.65v5" stroke="#2a2a2a" stroke-width="1.15" fill="none"/>
<path d="M583.10 559.15h3.2" stroke="#3a3a3a" stroke-width="1.2" fill="none"/>
<path d="M595.60 559.15h3.2" stroke="#3a3a3a" stroke-width="1.2" fill="none"/>
<path d="M609.40 559.15h3.2" stroke="#3a3a3a" stroke-width="1.2" fill="none"/>
<path d="M626.10 559.15h3.2" stroke="#3a3a3a" stroke-width="1.2" fill="none"/>
<text x="488.3" y="575.9200000000001" font-size="10.3" text-anchor="end" stroke="#1c1c1c" stroke-width="0.28" fill="#1c1c1c">Flag-N5</text>
<path d="M514.20 572.32h3.2" stroke="#3a3a3a" stroke-width="1.2" fill="none"/>
<path d="M525.50 572.32h3.2" stroke="#3a3a3a" stroke-width="1.2" fill="none"/>
<path d="M537.80 572.32h3.2" stroke="#3a3a3a" stroke-width="1.2" fill="none"/>
<path d="M548.00 572.32h3.2" stroke="#3a3a3a" stroke-width="1.2" fill="none"/>
<path d="M559.00 572.32h3.2" stroke="#3a3a3a" stroke-width="1.2" fill="none"/>
<path d="M571.60 572.32h3.2" stroke="#3a3a3a" stroke-width="1.2" fill="none"/>
<path d="M582.20 572.32h5M584.70 569.82v5" stroke="#2a2a2a" stroke-width="1.15" fill="none"/>
<path d="M595.60 572.32h3.2" stroke="#3a3a3a" stroke-width="1.2" fill="none"/>
<path d="M608.90 572.32h3.2" stroke="#3a3a3a" stroke-width="1.2" fill="none"/>
<path d="M626.10 572.32h3.2" stroke="#3a3a3a" stroke-width="1.2" fill="none"/>
<text x="488.3" y="589.09" font-size="10.3" text-anchor="end" stroke="#1c1c1c" stroke-width="0.28" fill="#1c1c1c">Flag-N6</text>
<path d="M513.30 585.49h3.2" stroke="#3a3a3a" stroke-width="1.2" fill="none"/>
<path d="M525.90 585.49h3.2" stroke="#3a3a3a" stroke-width="1.2" fill="none"/>
<path d="M537.80 585.49h3.2" stroke="#3a3a3a" stroke-width="1.2" fill="none"/>
<path d="M547.70 585.49h3.2" stroke="#3a3a3a" stroke-width="1.2" fill="none"/>
<path d="M559.00 585.49h3.2" stroke="#3a3a3a" stroke-width="1.2" fill="none"/>
<path d="M571.30 585.49h3.2" stroke="#3a3a3a" stroke-width="1.2" fill="none"/>
<path d="M583.10 585.49h3.2" stroke="#3a3a3a" stroke-width="1.2" fill="none"/>
<path d="M594.30 585.49h5M596.80 582.99v5" stroke="#2a2a2a" stroke-width="1.15" fill="none"/>
<path d="M608.70 585.49h3.2" stroke="#3a3a3a" stroke-width="1.2" fill="none"/>
<path d="M626.10 585.49h3.2" stroke="#3a3a3a" stroke-width="1.2" fill="none"/>
<text x="488.3" y="602.26" font-size="10.3" text-anchor="end" stroke="#1c1c1c" stroke-width="0.28" fill="#1c1c1c">Flag-N7</text>
<path d="M513.00 598.66h3.2" stroke="#3a3a3a" stroke-width="1.2" fill="none"/>
<path d="M524.90 598.66h3.2" stroke="#3a3a3a" stroke-width="1.2" fill="none"/>
<path d="M535.90 598.66h3.2" stroke="#3a3a3a" stroke-width="1.2" fill="none"/>
<path d="M545.70 598.66h3.2" stroke="#3a3a3a" stroke-width="1.2" fill="none"/>
<path d="M557.60 598.66h3.2" stroke="#3a3a3a" stroke-width="1.2" fill="none"/>
<path d="M569.80 598.66h3.2" stroke="#3a3a3a" stroke-width="1.2" fill="none"/>
<path d="M582.30 598.66h3.2" stroke="#3a3a3a" stroke-width="1.2" fill="none"/>
<path d="M595.60 598.66h3.2" stroke="#3a3a3a" stroke-width="1.2" fill="none"/>
<path d="M608.00 598.66h5M610.50 596.16v5" stroke="#2a2a2a" stroke-width="1.15" fill="none"/>
<path d="M626.10 598.66h3.2" stroke="#3a3a3a" stroke-width="1.2" fill="none"/>
<text x="488.3" y="615.4300000000001" font-size="10.3" text-anchor="end" stroke="#1c1c1c" stroke-width="0.28" fill="#1c1c1c">Flag-N8</text>
<path d="M513.80 611.83h3.2" stroke="#3a3a3a" stroke-width="1.2" fill="none"/>
<path d="M524.40 611.83h3.2" stroke="#3a3a3a" stroke-width="1.2" fill="none"/>
<path d="M536.60 611.83h3.2" stroke="#3a3a3a" stroke-width="1.2" fill="none"/>
<path d="M546.20 611.83h3.2" stroke="#3a3a3a" stroke-width="1.2" fill="none"/>
<path d="M556.40 611.83h3.2" stroke="#3a3a3a" stroke-width="1.2" fill="none"/>
<path d="M570.90 611.83h3.2" stroke="#3a3a3a" stroke-width="1.2" fill="none"/>
<path d="M582.00 611.83h3.2" stroke="#3a3a3a" stroke-width="1.2" fill="none"/>
<path d="M594.80 611.83h3.2" stroke="#3a3a3a" stroke-width="1.2" fill="none"/>
<path d="M607.70 611.83h3.2" stroke="#3a3a3a" stroke-width="1.2" fill="none"/>
<path d="M624.40 611.83h5M626.90 609.33v5" stroke="#2a2a2a" stroke-width="1.15" fill="none"/>
<text x="488.3" y="628.6" font-size="10.3" text-anchor="end" stroke="#1c1c1c" stroke-width="0.28" fill="#1c1c1c">HA-NLRP3</text>
<path d="M512.40 625.00h5M514.90 622.50v5" stroke="#2a2a2a" stroke-width="1.15" fill="none"/>
<path d="M523.50 625.00h5M526.00 622.50v5" stroke="#2a2a2a" stroke-width="1.15" fill="none"/>
<path d="M536.20 625.00h5M538.70 622.50v5" stroke="#2a2a2a" stroke-width="1.15" fill="none"/>
<path d="M545.60 625.00h5M548.10 622.50v5" stroke="#2a2a2a" stroke-width="1.15" fill="none"/>
<path d="M555.00 625.00h5M557.50 622.50v5" stroke="#2a2a2a" stroke-width="1.15" fill="none"/>
<path d="M570.30 625.00h5M572.80 622.50v5" stroke="#2a2a2a" stroke-width="1.15" fill="none"/>
<path d="M581.40 625.00h5M583.90 622.50v5" stroke="#2a2a2a" stroke-width="1.15" fill="none"/>
<path d="M593.60 625.00h5M596.10 622.50v5" stroke="#2a2a2a" stroke-width="1.15" fill="none"/>
<path d="M606.20 625.00h5M608.70 622.50v5" stroke="#2a2a2a" stroke-width="1.15" fill="none"/>
<path d="M624.10 625.00h5M626.60 622.50v5" stroke="#2a2a2a" stroke-width="1.15" fill="none"/>
<path d="M651.60 493.30h5M654.10 490.80v5" stroke="#2a2a2a" stroke-width="1.15" fill="none"/>
<path d="M663.90 493.30h3.2" stroke="#3a3a3a" stroke-width="1.2" fill="none"/>
<path d="M675.60 493.30h3.2" stroke="#3a3a3a" stroke-width="1.2" fill="none"/>
<path d="M688.00 493.30h3.2" stroke="#3a3a3a" stroke-width="1.2" fill="none"/>
<path d="M701.20 493.30h3.2" stroke="#3a3a3a" stroke-width="1.2" fill="none"/>
<path d="M714.50 493.30h3.2" stroke="#3a3a3a" stroke-width="1.2" fill="none"/>
<path d="M727.90 493.30h3.2" stroke="#3a3a3a" stroke-width="1.2" fill="none"/>
<path d="M738.80 493.30h3.2" stroke="#3a3a3a" stroke-width="1.2" fill="none"/>
<path d="M749.70 493.30h3.2" stroke="#3a3a3a" stroke-width="1.2" fill="none"/>
<path d="M760.40 493.30h3.2" stroke="#3a3a3a" stroke-width="1.2" fill="none"/>
<path d="M651.70 506.47h3.2" stroke="#3a3a3a" stroke-width="1.2" fill="none"/>
<path d="M663.30 506.47h5M665.80 503.97v5" stroke="#2a2a2a" stroke-width="1.15" fill="none"/>
<path d="M676.10 506.47h3.2" stroke="#3a3a3a" stroke-width="1.2" fill="none"/>
<path d="M688.60 506.47h3.2" stroke="#3a3a3a" stroke-width="1.2" fill="none"/>
<path d="M700.50 506.47h3.2" stroke="#3a3a3a" stroke-width="1.2" fill="none"/>
<path d="M714.50 506.47h3.2" stroke="#3a3a3a" stroke-width="1.2" fill="none"/>
<path d="M727.90 506.47h3.2" stroke="#3a3a3a" stroke-width="1.2" fill="none"/>
<path d="M738.80 506.47h3.2" stroke="#3a3a3a" stroke-width="1.2" fill="none"/>
<path d="M750.00 506.47h3.2" stroke="#3a3a3a" stroke-width="1.2" fill="none"/>
<path d="M760.60 506.47h3.2" stroke="#3a3a3a" stroke-width="1.2" fill="none"/>
<path d="M652.00 519.64h3.2" stroke="#3a3a3a" stroke-width="1.2" fill="none"/>
<path d="M663.90 519.64h3.2" stroke="#3a3a3a" stroke-width="1.2" fill="none"/>
<path d="M673.70 519.64h5M676.20 517.14v5" stroke="#2a2a2a" stroke-width="1.15" fill="none"/>
<path d="M689.00 519.64h3.2" stroke="#3a3a3a" stroke-width="1.2" fill="none"/>
<path d="M700.80 519.64h3.2" stroke="#3a3a3a" stroke-width="1.2" fill="none"/>
<path d="M713.40 519.64h3.2" stroke="#3a3a3a" stroke-width="1.2" fill="none"/>
<path d="M726.80 519.64h3.2" stroke="#3a3a3a" stroke-width="1.2" fill="none"/>
<path d="M738.50 519.64h3.2" stroke="#3a3a3a" stroke-width="1.2" fill="none"/>
<path d="M749.20 519.64h3.2" stroke="#3a3a3a" stroke-width="1.2" fill="none"/>
<path d="M759.90 519.64h3.2" stroke="#3a3a3a" stroke-width="1.2" fill="none"/>
<path d="M652.00 532.81h3.2" stroke="#3a3a3a" stroke-width="1.2" fill="none"/>
<path d="M664.20 532.81h3.2" stroke="#3a3a3a" stroke-width="1.2" fill="none"/>
<path d="M674.90 532.81h3.2" stroke="#3a3a3a" stroke-width="1.2" fill="none"/>
<path d="M683.60 532.81h5M686.10 530.31v5" stroke="#2a2a2a" stroke-width="1.15" fill="none"/>
<path d="M699.70 532.81h3.2" stroke="#3a3a3a" stroke-width="1.2" fill="none"/>
<path d="M711.90 532.81h3.2" stroke="#3a3a3a" stroke-width="1.2" fill="none"/>
<path d="M721.50 532.81h3.2" stroke="#3a3a3a" stroke-width="1.2" fill="none"/>
<path d="M733.20 532.81h3.2" stroke="#3a3a3a" stroke-width="1.2" fill="none"/>
<path d="M747.70 532.81h3.2" stroke="#3a3a3a" stroke-width="1.2" fill="none"/>
<path d="M758.60 532.81h3.2" stroke="#3a3a3a" stroke-width="1.2" fill="none"/>
<path d="M652.00 545.98h3.2" stroke="#3a3a3a" stroke-width="1.2" fill="none"/>
<path d="M663.90 545.98h3.2" stroke="#3a3a3a" stroke-width="1.2" fill="none"/>
<path d="M674.90 545.98h3.2" stroke="#3a3a3a" stroke-width="1.2" fill="none"/>
<path d="M684.50 545.98h3.2" stroke="#3a3a3a" stroke-width="1.2" fill="none"/>
<path d="M694.50 545.98h5M697.00 543.48v5" stroke="#2a2a2a" stroke-width="1.15" fill="none"/>
<path d="M709.30 545.98h3.2" stroke="#3a3a3a" stroke-width="1.2" fill="none"/>
<path d="M720.60 545.98h3.2" stroke="#3a3a3a" stroke-width="1.2" fill="none"/>
<path d="M733.20 545.98h3.2" stroke="#3a3a3a" stroke-width="1.2" fill="none"/>
<path d="M747.70 545.98h3.2" stroke="#3a3a3a" stroke-width="1.2" fill="none"/>
<path d="M758.60 545.98h3.2" stroke="#3a3a3a" stroke-width="1.2" fill="none"/>
<path d="M652.00 559.15h3.2" stroke="#3a3a3a" stroke-width="1.2" fill="none"/>
<path d="M663.90 559.15h3.2" stroke="#3a3a3a" stroke-width="1.2" fill="none"/>
<path d="M675.00 559.15h3.2" stroke="#3a3a3a" stroke-width="1.2" fill="none"/>
<path d="M684.50 559.15h3.2" stroke="#3a3a3a" stroke-width="1.2" fill="none"/>
<path d="M695.40 559.15h3.2" stroke="#3a3a3a" stroke-width="1.2" fill="none"/>
<path d="M708.70 559.15h5M711.20 556.65v5" stroke="#2a2a2a" stroke-width="1.15" fill="none"/>
<path d="M720.30 559.15h3.2" stroke="#3a3a3a" stroke-width="1.2" fill="none"/>
<path d="M732.80 559.15h3.2" stroke="#3a3a3a" stroke-width="1.2" fill="none"/>
<path d="M746.60 559.15h3.2" stroke="#3a3a3a" stroke-width="1.2" fill="none"/>
<path d="M759.10 559.15h3.2" stroke="#3a3a3a" stroke-width="1.2" fill="none"/>
<path d="M651.40 572.32h3.2" stroke="#3a3a3a" stroke-width="1.2" fill="none"/>
<path d="M662.70 572.32h3.2" stroke="#3a3a3a" stroke-width="1.2" fill="none"/>
<path d="M675.00 572.32h3.2" stroke="#3a3a3a" stroke-width="1.2" fill="none"/>
<path d="M685.20 572.32h3.2" stroke="#3a3a3a" stroke-width="1.2" fill="none"/>
<path d="M696.20 572.32h3.2" stroke="#3a3a3a" stroke-width="1.2" fill="none"/>
<path d="M708.80 572.32h3.2" stroke="#3a3a3a" stroke-width="1.2" fill="none"/>
<path d="M719.40 572.32h5M721.90 569.82v5" stroke="#2a2a2a" stroke-width="1.15" fill="none"/>
<path d="M732.80 572.32h3.2" stroke="#3a3a3a" stroke-width="1.2" fill="none"/>
<path d="M746.10 572.32h3.2" stroke="#3a3a3a" stroke-width="1.2" fill="none"/>
<path d="M759.10 572.32h3.2" stroke="#3a3a3a" stroke-width="1.2" fill="none"/>
<path d="M650.50 585.49h3.2" stroke="#3a3a3a" stroke-width="1.2" fill="none"/>
<path d="M663.10 585.49h3.2" stroke="#3a3a3a" stroke-width="1.2" fill="none"/>
<path d="M675.00 585.49h3.2" stroke="#3a3a3a" stroke-width="1.2" fill="none"/>
<path d="M684.90 585.49h3.2" stroke="#3a3a3a" stroke-width="1.2" fill="none"/>
<path d="M696.20 585.49h3.2" stroke="#3a3a3a" stroke-width="1.2" fill="none"/>
<path d="M708.50 585.49h3.2" stroke="#3a3a3a" stroke-width="1.2" fill="none"/>
<path d="M720.30 585.49h3.2" stroke="#3a3a3a" stroke-width="1.2" fill="none"/>
<path d="M731.50 585.49h5M734.00 582.99v5" stroke="#2a2a2a" stroke-width="1.15" fill="none"/>
<path d="M745.90 585.49h3.2" stroke="#3a3a3a" stroke-width="1.2" fill="none"/>
<path d="M759.10 585.49h3.2" stroke="#3a3a3a" stroke-width="1.2" fill="none"/>
<path d="M650.20 598.66h3.2" stroke="#3a3a3a" stroke-width="1.2" fill="none"/>
<path d="M662.10 598.66h3.2" stroke="#3a3a3a" stroke-width="1.2" fill="none"/>
<path d="M673.10 598.66h3.2" stroke="#3a3a3a" stroke-width="1.2" fill="none"/>
<path d="M682.90 598.66h3.2" stroke="#3a3a3a" stroke-width="1.2" fill="none"/>
<path d="M694.80 598.66h3.2" stroke="#3a3a3a" stroke-width="1.2" fill="none"/>
<path d="M707.00 598.66h3.2" stroke="#3a3a3a" stroke-width="1.2" fill="none"/>
<path d="M719.50 598.66h3.2" stroke="#3a3a3a" stroke-width="1.2" fill="none"/>
<path d="M732.80 598.66h3.2" stroke="#3a3a3a" stroke-width="1.2" fill="none"/>
<path d="M745.20 598.66h5M747.70 596.16v5" stroke="#2a2a2a" stroke-width="1.15" fill="none"/>
<path d="M759.10 598.66h3.2" stroke="#3a3a3a" stroke-width="1.2" fill="none"/>
<path d="M651.00 611.83h3.2" stroke="#3a3a3a" stroke-width="1.2" fill="none"/>
<path d="M661.60 611.83h3.2" stroke="#3a3a3a" stroke-width="1.2" fill="none"/>
<path d="M673.80 611.83h3.2" stroke="#3a3a3a" stroke-width="1.2" fill="none"/>
<path d="M683.40 611.83h3.2" stroke="#3a3a3a" stroke-width="1.2" fill="none"/>
<path d="M693.60 611.83h3.2" stroke="#3a3a3a" stroke-width="1.2" fill="none"/>
<path d="M708.10 611.83h3.2" stroke="#3a3a3a" stroke-width="1.2" fill="none"/>
<path d="M719.20 611.83h3.2" stroke="#3a3a3a" stroke-width="1.2" fill="none"/>
<path d="M732.00 611.83h3.2" stroke="#3a3a3a" stroke-width="1.2" fill="none"/>
<path d="M744.90 611.83h3.2" stroke="#3a3a3a" stroke-width="1.2" fill="none"/>
<path d="M757.40 611.83h5M759.90 609.33v5" stroke="#2a2a2a" stroke-width="1.15" fill="none"/>
<path d="M649.60 625.00h5M652.10 622.50v5" stroke="#2a2a2a" stroke-width="1.15" fill="none"/>
<path d="M660.70 625.00h5M663.20 622.50v5" stroke="#2a2a2a" stroke-width="1.15" fill="none"/>
<path d="M673.40 625.00h5M675.90 622.50v5" stroke="#2a2a2a" stroke-width="1.15" fill="none"/>
<path d="M682.80 625.00h5M685.30 622.50v5" stroke="#2a2a2a" stroke-width="1.15" fill="none"/>
<path d="M692.20 625.00h5M694.70 622.50v5" stroke="#2a2a2a" stroke-width="1.15" fill="none"/>
<path d="M707.50 625.00h5M710.00 622.50v5" stroke="#2a2a2a" stroke-width="1.15" fill="none"/>
<path d="M718.60 625.00h5M721.10 622.50v5" stroke="#2a2a2a" stroke-width="1.15" fill="none"/>
<path d="M730.80 625.00h5M733.30 622.50v5" stroke="#2a2a2a" stroke-width="1.15" fill="none"/>
<path d="M743.40 625.00h5M745.90 622.50v5" stroke="#2a2a2a" stroke-width="1.15" fill="none"/>
<path d="M757.10 625.00h5M759.60 622.50v5" stroke="#2a2a2a" stroke-width="1.15" fill="none"/>
<line x1="509.5" y1="637.8" x2="629.7" y2="637.8" stroke="#1a1a1a" stroke-width="1.7"/>
<text x="570.4" y="655.0" font-size="10.4" text-anchor="middle" stroke="#1c1c1c" stroke-width="0.28" fill="#1c1c1c">IP: Flag</text>
<line x1="645.4" y1="638.3" x2="765.6" y2="638.3" stroke="#1a1a1a" stroke-width="1.7"/>
<text x="712.7" y="653.6" font-size="10.4" text-anchor="middle" stroke="#1c1c1c" stroke-width="0.28" fill="#1c1c1c">Input</text>
</g></svg></div></body></html>
